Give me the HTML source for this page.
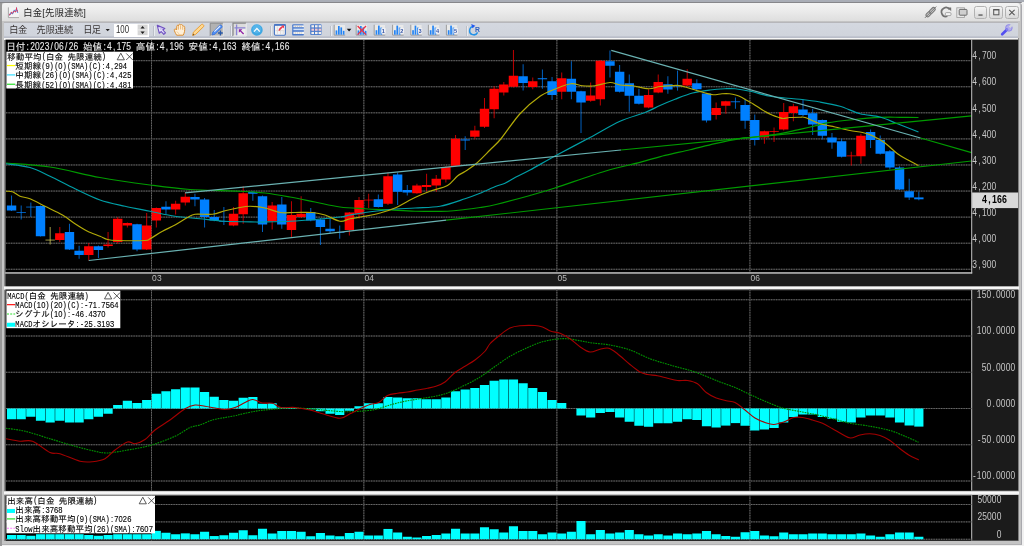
<!DOCTYPE html>
<html lang="ja">
<head>
<meta charset="utf-8">
<title>白金[先限連続]</title>
<style>
html,body{margin:0;padding:0;}
body{width:1024px;height:546px;overflow:hidden;background:#f1f1f1;position:relative;font-family:"Liberation Sans","Noto Sans CJK JP","IPAGothic",sans-serif;}
.abs{position:absolute;}
#topband{left:0;top:0;width:1024px;height:2.4px;background:#a9adb6;}
#topline{left:0;top:2.2px;width:1022px;height:1.2px;background:#86868a;border-radius:0 3px 0 0;}
#leftstrip{left:0;top:3px;width:1.5px;height:543px;background:#989898;}
#frame{left:1.5px;top:3.3px;width:1020.5px;height:541.4px;background:#c4c4c4;border-radius:0 3px 0 0;box-sizing:border-box;border-right:1.5px solid #a9a9ae;border-bottom:1.3px solid #b2b2b4;}
#frameL{left:4.2px;top:38px;width:1014.6px;height:503.3px;background:#8a8a8a;}
#titlebar{left:2px;top:3.4px;width:1018.4px;height:18px;background:linear-gradient(#f3f3f3 0%,#ebebeb 45%,#dedede 100%);border-radius:3px 3px 0 0;}
#toolbar{left:4.3px;top:21.6px;width:1014.2px;height:16.8px;background:linear-gradient(#d4d8e0 0%,#d0d4dc 84%,#bcc0cb 92%,#b8bcc8 100%);border-top:0.7px solid #b6b6ba;box-sizing:border-box;}
#tbwhite{left:4.3px;top:38.3px;width:1014.2px;height:1.3px;background:#f6f6f6;}
#title{left:23.2px;top:6.6px;font-size:9.3px;line-height:12px;color:#262626;white-space:nowrap;letter-spacing:0.25px;}
.tbtxt{top:24.0px;font-size:9.2px;line-height:12px;color:#3a3636;white-space:nowrap;}
#numbox{left:113.7px;top:23.9px;width:35.4px;height:12.9px;background:#fff;}
#numtxt{left:115.9px;top:22.6px;font-size:10.6px;line-height:12px;color:#303030;transform:scaleX(0.74);transform-origin:0 0;letter-spacing:0;}
#spin{left:138px;top:23.4px;width:10px;height:13.6px;background:#e9e9e9;}
.sep{top:25.6px;width:0.7px;height:10.6px;background:#bcc0c9;box-shadow:0.8px 0 0 #eef0f4;}
.sel{background:#a9a9a9;top:23.2px;height:12.4px;}
.wbtn{top:5.6px;height:13.6px;border:0.8px solid #b2b2b2;border-radius:2.5px;box-sizing:border-box;background:linear-gradient(#f4f4f4,#d8d8d8);}
.split{left:4.4px;width:1014.2px;background:linear-gradient(#bdbdbd 0%,#f8f8f8 35%,#f4f4f4 65%,#bdbdbd 100%);}
</style>
</head>
<body>
<div class="abs" id="topband"></div>
<div class="abs" id="topline"></div>
<div class="abs" id="leftstrip"></div>
<div class="abs" id="frame"></div>
<div class="abs" id="frameL"></div>
<div class="abs" id="titlebar"></div>
<div class="abs" id="toolbar"></div>
<div class="abs" id="tbwhite"></div>
<div class="abs" id="title">白金[先限連続]</div>
<div class="abs tbtxt" style="left:9.2px;letter-spacing:-0.3px">白金</div>
<div class="abs tbtxt" style="left:36.4px;letter-spacing:0.05px">先限連続</div>
<div class="abs tbtxt" style="left:83.2px;letter-spacing:-0.5px">日足</div>
<div class="abs" id="numbox"></div>
<div class="abs" id="numtxt">100</div>
<div class="abs sep" style="left:153px"></div>
<div class="abs sep" style="left:229.6px"></div>
<div class="abs sep" style="left:270.3px"></div>
<div class="abs sep" style="left:330px"></div>
<div class="abs sep" style="left:465.8px"></div>
<div class="abs wbtn" style="left:973.8px;width:13.6px"></div>
<div class="abs wbtn" style="left:989.2px;width:14.2px"></div>
<div class="abs wbtn" style="left:1005px;width:13.8px"></div>
<div class="abs split" style="top:286px;height:3.6px"></div>
<div class="abs split" style="top:490.6px;height:4.4px"></div>
<svg id="icons" width="1024" height="40" viewBox="0 0 1024 40" style="position:absolute;left:0;top:0" font-family='"Liberation Sans","IPAGothic",sans-serif'>
<g id="ico-title">
<rect x="8.2" y="7.6" width="10.6" height="10" fill="#f4f4f4"/>
<path d="M8.4,7.4 V17.6 H19" fill="none" stroke="#a0a0a0" stroke-width="0.9"/>
<polyline points="9.4,15.2 11.2,12.6 12.6,13.6 14.2,10.4 15.6,11.6 16.6,8.6 17.8,12.8" fill="none" stroke="#5090e0" stroke-width="1.1"/>
<polyline points="9.4,15.2 11.2,12.6 12.6,13.6 14.2,10.4 15.6,11.6 16.6,8.6 17.8,12.8" fill="none" stroke="#f03050" stroke-width="1.1" stroke-dasharray="1.6 1.4"/>
</g>
<path d="M105.6,28.9 h4.2 l-2.1,2.4 z" fill="#222"/>
<rect x="137.6" y="24.6" width="10" height="10.6" fill="#d6d6d6"/>
<path d="M137.6,29.9 H147.6" stroke="#f4f4f4" stroke-width="0.7"/>
<path d="M140.5,28.6 l2.1,-2.5 l2.1,2.5 z M140.5,31.4 l2.1,2.5 l2.1,-2.5 z" fill="#1c1c1c"/>
<path d="M157.3,25.3 L159.3,33.3 L161.1,31.5 L163.8,34.4 L165.5,32.9 L162.8,30 L164.9,28.4 Z" fill="#c9c0f2" stroke="#6e4fc0" stroke-width="1.1" stroke-linejoin="round"/>
<path d="M158.9,27.6 L160,31.2 L161.4,29.9 L163.6,32.4" fill="none" stroke="#f4f0ff" stroke-width="0.9"/>
<path d="M176.6,35.2 C175.4,33 174.2,31 174.3,29.6 C174.6,28.6 175.8,28.8 176.6,30 L176.8,26.2 C176.9,25 178.2,25 178.4,26.2 L178.8,24.8 C179.2,23.8 180.4,24 180.5,25 L181,24.9 C181.6,24.2 182.6,24.6 182.6,25.6 L183.2,26.2 C184,25.8 184.8,26.4 184.7,27.4 C184.9,30 184.6,32.6 183.2,35.2 Z" fill="#fff0d8" stroke="#dc9034" stroke-width="1.0" stroke-linejoin="round"/>
<path d="M178.5,26.4 V29.6 M180.6,25.6 V29.4 M182.7,26.2 V29.8" stroke="#e2a050" stroke-width="0.7" fill="none"/>
<path d="M176.8,31.4 C177.6,32.6 178.6,33.6 179.6,34.4" stroke="#ecc080" stroke-width="0.7" fill="none"/>
<path d="M192.6,35.4 L193.4,32.2 L201.6,24.4 C202.6,23.8 204.2,25.2 203.8,26.4 L195.6,34.4 Z" fill="#ffd890" stroke="#eaa038" stroke-width="1.0" stroke-linejoin="round"/>
<path d="M192.6,35.4 L193.1,33.6 L194.4,34.9 Z" fill="#6a4a20"/>
<rect x="210.2" y="23.2" width="12.9" height="12.7" fill="#b2b2b2"/>
<path d="M210.2,36 V23.2 H223.1" fill="none" stroke="#868686" stroke-width="0.9"/>
<path d="M210.4,36 H223.2 V23.4" fill="none" stroke="#ececec" stroke-width="0.8"/>
<path d="M212,35 L212.8,32.2 L219.6,25.2 C220.8,24.4 222.6,25.8 222,27.2 L215,34.2 Z" fill="#5090f4" stroke="#3a70d8" stroke-width="0.8" stroke-linejoin="round"/>
<path d="M214.4,31.6 L220.2,26" stroke="#e8f0ff" stroke-width="1.1" fill="none"/>
<path d="M220.4,30.6 v4.8 M218,33 h4.8" stroke="#2858a8" stroke-width="1.3" fill="none"/>
<rect x="233" y="23.2" width="13.1" height="12.7" fill="#dcdcdc"/>
<path d="M233,36 V23.2 H246.1" fill="none" stroke="#868686" stroke-width="1.2"/>
<path d="M233.2,36 H246.2 V23.4" fill="none" stroke="#f2f2f2" stroke-width="0.8"/>
<rect x="237.6" y="28.8" width="8" height="6.4" fill="#efefef"/>
<path d="M236.6,24.4 V35.2 M234.4,27.8 H245.4" stroke="#8a84d4" stroke-width="1.3" fill="none"/>
<path d="M243.6,34 L240,30.4" stroke="#9020a4" stroke-width="1.3" fill="none"/>
<path d="M238.8,29.2 h3.6 l-3.6,3.6 z" fill="#9020a4"/>
<circle cx="256.9" cy="30" r="5.8" fill="#3fa7e2"/>
<circle cx="256.9" cy="29" r="4.4" fill="#62bdf0" opacity="0.6"/>
<polyline points="254,31.6 256.9,28.4 259.8,31.6" fill="none" stroke="#fff" stroke-width="1.3"/>
<rect x="274.4" y="24.6" width="11" height="10.6" rx="1.2" fill="#f4f4f6" stroke="#4674c4" stroke-width="1.1"/>
<rect x="274.2" y="24.2" width="11.4" height="1.6" fill="#4674c4"/>
<path d="M277.4,26.4 V34.4 M280.6,30.8 V34.4 M283.2,30.8 V34.4 M275.6,30.6 H284.6" stroke="#d8d4d0" stroke-width="0.7" fill="none"/>
<path d="M279.2,30.6 C279.6,28 281.2,28.4 282.6,26.4" stroke="#f0384c" stroke-width="1.6" fill="none"/>
<path d="M281.4,25.6 h2.6 v2.8 z" fill="#f0384c"/>
<rect x="292.2" y="24.2" width="11.6" height="11.4" rx="1.2" fill="#4a7acc"/>
<rect x="293.4" y="25.4" width="10.6" height="1.8" fill="#f4f4f4"/>
<rect x="293.4" y="28.6" width="10.6" height="1.6" fill="#cfe2fa"/>
<rect x="293.4" y="31.8" width="10.6" height="2.2" fill="#f4f4f4"/>
<path d="M294.6,26.3 h7.4 M294.6,33 h7.4" stroke="#b8b0a0" stroke-width="0.7" stroke-dasharray="1.4 0.8"/>
<rect x="310.2" y="24.2" width="11.4" height="10.8" rx="1.2" fill="#4a7acc"/>
<rect x="311.4" y="25.2" width="2.6" height="2.2" fill="#f4f0ec"/>
<rect x="315.0" y="25.2" width="2.6" height="2.2" fill="#f4f0ec"/>
<rect x="318.6" y="25.2" width="2.6" height="2.2" fill="#f4f0ec"/>
<rect x="311.4" y="28.6" width="2.6" height="2.2" fill="#f0c8d0"/>
<rect x="315.0" y="28.6" width="2.6" height="2.2" fill="#f0c8d0"/>
<rect x="318.6" y="28.6" width="2.6" height="2.2" fill="#f0c8d0"/>
<rect x="311.4" y="31.9" width="2.6" height="2.2" fill="#f4f0ec"/>
<rect x="315.0" y="31.9" width="2.6" height="2.2" fill="#f4f0ec"/>
<rect x="318.6" y="31.9" width="2.6" height="2.2" fill="#f4f0ec"/>
<rect x="334.2" y="25" width="10.8" height="10" fill="#e9e9e9"/>
<path d="M334.2,24.8 V35.1 H345.2" fill="none" stroke="#8c8c8c" stroke-width="0.8"/>
<rect x="335.6" y="30.4" width="1.7" height="4.3" fill="#2484f4"/>
<rect x="338.0" y="26" width="1.7" height="8.7" fill="#2484f4"/>
<rect x="340.4" y="27.4" width="1.7" height="7.3" fill="#2484f4"/>
<rect x="342.8" y="30.8" width="1.7" height="3.9" fill="#2484f4"/>
<path d="M346.8,28.8 h4.6 l-2.3,2.6 z" fill="#111"/>
<rect x="356.2" y="25" width="10.8" height="10" fill="#e9e9e9"/>
<path d="M356.2,24.8 V35.1 H367.2" fill="none" stroke="#8c8c8c" stroke-width="0.8"/>
<rect x="357.6" y="30.4" width="1.7" height="4.3" fill="#2484f4"/>
<rect x="360.0" y="26" width="1.7" height="8.7" fill="#2484f4"/>
<rect x="362.4" y="27.4" width="1.7" height="7.3" fill="#2484f4"/>
<rect x="364.8" y="30.8" width="1.7" height="3.9" fill="#2484f4"/>
<path d="M357.59999999999997,26 L366.0,34.6 M366.0,26 L357.59999999999997,34.6" stroke="#f03044" stroke-width="1.3" fill="none"/>
<rect x="374.2" y="25" width="10.8" height="10" fill="#e9e9e9"/>
<path d="M374.2,24.8 V35.1 H385.2" fill="none" stroke="#8c8c8c" stroke-width="0.8"/>
<rect x="375.6" y="30.2" width="1.7" height="4.5" fill="#2484f4"/>
<rect x="378.0" y="25.6" width="1.7" height="9.1" fill="#2484f4"/>
<rect x="380.4" y="27.6" width="1.7" height="7.1" fill="#2484f4"/>
<rect x="381.2" y="28.2" width="4.4" height="5.4" fill="#f2f2f6"/>
<text x="383.4" y="33.2" font-size="5.6" font-weight="bold" text-anchor="middle" fill="#3454a4">1</text>
<rect x="392.6" y="25" width="10.8" height="10" fill="#e9e9e9"/>
<path d="M392.6,24.8 V35.1 H403.6" fill="none" stroke="#8c8c8c" stroke-width="0.8"/>
<rect x="394.0" y="30.2" width="1.7" height="4.5" fill="#2484f4"/>
<rect x="396.4" y="25.6" width="1.7" height="9.1" fill="#2484f4"/>
<rect x="398.8" y="27.6" width="1.7" height="7.1" fill="#2484f4"/>
<rect x="399.6" y="28.2" width="4.4" height="5.4" fill="#f2f2f6"/>
<text x="401.8" y="33.2" font-size="5.6" font-weight="bold" text-anchor="middle" fill="#3454a4">2</text>
<rect x="410.8" y="25" width="10.8" height="10" fill="#e9e9e9"/>
<path d="M410.8,24.8 V35.1 H421.8" fill="none" stroke="#8c8c8c" stroke-width="0.8"/>
<rect x="412.2" y="30.2" width="1.7" height="4.5" fill="#2484f4"/>
<rect x="414.6" y="25.6" width="1.7" height="9.1" fill="#2484f4"/>
<rect x="417.0" y="27.6" width="1.7" height="7.1" fill="#2484f4"/>
<rect x="417.8" y="28.2" width="4.4" height="5.4" fill="#f2f2f6"/>
<text x="420.0" y="33.2" font-size="5.6" font-weight="bold" text-anchor="middle" fill="#3454a4">3</text>
<rect x="428.4" y="25" width="10.8" height="10" fill="#e9e9e9"/>
<path d="M428.4,24.8 V35.1 H439.4" fill="none" stroke="#8c8c8c" stroke-width="0.8"/>
<rect x="429.8" y="30.2" width="1.7" height="4.5" fill="#2484f4"/>
<rect x="432.2" y="25.6" width="1.7" height="9.1" fill="#2484f4"/>
<rect x="434.6" y="27.6" width="1.7" height="7.1" fill="#2484f4"/>
<rect x="435.4" y="28.2" width="4.4" height="5.4" fill="#f2f2f6"/>
<text x="437.59999999999997" y="33.2" font-size="5.6" font-weight="bold" text-anchor="middle" fill="#3454a4">4</text>
<rect x="446.4" y="25" width="10.8" height="10" fill="#e9e9e9"/>
<path d="M446.4,24.8 V35.1 H457.4" fill="none" stroke="#8c8c8c" stroke-width="0.8"/>
<rect x="447.8" y="30.2" width="1.7" height="4.5" fill="#2484f4"/>
<rect x="450.2" y="25.6" width="1.7" height="9.1" fill="#2484f4"/>
<rect x="452.6" y="27.6" width="1.7" height="7.1" fill="#2484f4"/>
<rect x="453.4" y="28.2" width="4.4" height="5.4" fill="#f2f2f6"/>
<text x="455.59999999999997" y="33.2" font-size="5.6" font-weight="bold" text-anchor="middle" fill="#3454a4">5</text>
<path d="M473.8,26.4 A4.2,4.2 0 1 0 477.6,32.4" fill="none" stroke="#2492e8" stroke-width="1.5"/>
<path d="M471.2,24 L475.4,25.7 L472.4,28.2 Z" fill="#2458f0"/>
<text x="475.1" y="32.3" font-size="6.8" font-weight="bold" fill="#3060c0">R</text>
<circle cx="1008.9" cy="27.9" r="3.3" fill="#b0acee" stroke="#8e88e2" stroke-width="0.9"/>
<path d="M1009.6,27.2 L1013.2,23.6" stroke="#d1d5dd" stroke-width="2.3" fill="none"/>
<path d="M1002.2,34.2 L1006.8,29.8" stroke="#5450f0" stroke-width="2.7" stroke-linecap="round" fill="none"/>
<path d="M1006.2,30.4 L1007.6,29.0" stroke="#8a86ea" stroke-width="2.4" fill="none"/>
<g transform="rotate(-45 930.6 12.2)"><rect x="924.8" y="10.5" width="6.6" height="3.4" rx="1.6" fill="#cfcfcf" stroke="#7a7a7a" stroke-width="1.15"/><rect x="929.8" y="10.5" width="6.6" height="3.4" rx="1.6" fill="#cfcfcf" stroke="#7a7a7a" stroke-width="1.15"/><path d="M922.6,12.2 H938.6" stroke="#6e6e6e" stroke-width="0.9"/></g>
<path d="M949.6,9.6 A4.4,4.4 0 1 0 947.4,16.2" fill="none" stroke="#727272" stroke-width="1.7"/>
<path d="M947.6,7.4 h3.6 v3.8 z" fill="#727272"/>
<rect x="945.4" y="12.6" width="5.6" height="3" rx="1" fill="#f4f4f4" stroke="#8a8a8a" stroke-width="0.7"/>
<rect x="956.8" y="7.8" width="7.8" height="9.6" fill="#e8e8e8" stroke="#9c9c9c" stroke-width="0.8"/>
<rect x="959.2" y="9.4" width="7.8" height="5.8" rx="0.8" fill="#cfcfcf" stroke="#6a6a6a" stroke-width="1.0"/>
<rect x="978.4" y="14.4" width="4.2" height="1.3" fill="#555"/>
<rect x="993.7" y="9.6" width="5.2" height="5.2" fill="none" stroke="#555" stroke-width="1.0"/>
<rect x="993.4" y="9.2" width="5.8" height="1.2" fill="#555"/>
<path d="M1009.2,9.8 L1014.6,15.2 M1014.6,9.8 L1009.2,15.2" stroke="#555" stroke-width="1.05" fill="none"/>
</svg>
<svg id="chart" width="1024" height="546" viewBox="0 0 1024 546" font-family='"Liberation Mono","IPAGothic",monospace' style="position:absolute;left:0;top:0">
<rect x="5.5" y="39.6" width="1012.6" height="246.6" fill="#1b1b1b"/>
<rect x="6.0" y="40.0" width="965.5" height="232.0" fill="#000"/>
<rect x="5.5" y="289.6" width="1012.6" height="201.0" fill="#1b1b1b"/>
<rect x="6.0" y="289.6" width="965.5" height="201.0" fill="#000"/>
<rect x="5.5" y="495.0" width="1012.6" height="45.5" fill="#1b1b1b"/>
<rect x="6.0" y="495.0" width="965.5" height="45.5" fill="#000"/>
<g id="main-panel">
<line x1="6.0" y1="60.70" x2="971.5" y2="60.70" stroke="#383838" stroke-width="0.9"/><line x1="6.0" y1="60.70" x2="971.5" y2="60.70" stroke="#6e6e6e" stroke-width="0.9" stroke-dasharray="1.25 1.25"/>
<line x1="6.0" y1="86.77" x2="971.5" y2="86.77" stroke="#383838" stroke-width="0.9"/><line x1="6.0" y1="86.77" x2="971.5" y2="86.77" stroke="#6e6e6e" stroke-width="0.9" stroke-dasharray="1.25 1.25"/>
<line x1="6.0" y1="112.84" x2="971.5" y2="112.84" stroke="#383838" stroke-width="0.9"/><line x1="6.0" y1="112.84" x2="971.5" y2="112.84" stroke="#6e6e6e" stroke-width="0.9" stroke-dasharray="1.25 1.25"/>
<line x1="6.0" y1="138.91" x2="971.5" y2="138.91" stroke="#383838" stroke-width="0.9"/><line x1="6.0" y1="138.91" x2="971.5" y2="138.91" stroke="#6e6e6e" stroke-width="0.9" stroke-dasharray="1.25 1.25"/>
<line x1="6.0" y1="164.98" x2="971.5" y2="164.98" stroke="#383838" stroke-width="0.9"/><line x1="6.0" y1="164.98" x2="971.5" y2="164.98" stroke="#6e6e6e" stroke-width="0.9" stroke-dasharray="1.25 1.25"/>
<line x1="6.0" y1="191.05" x2="971.5" y2="191.05" stroke="#383838" stroke-width="0.9"/><line x1="6.0" y1="191.05" x2="971.5" y2="191.05" stroke="#6e6e6e" stroke-width="0.9" stroke-dasharray="1.25 1.25"/>
<line x1="6.0" y1="217.12" x2="971.5" y2="217.12" stroke="#383838" stroke-width="0.9"/><line x1="6.0" y1="217.12" x2="971.5" y2="217.12" stroke="#6e6e6e" stroke-width="0.9" stroke-dasharray="1.25 1.25"/>
<line x1="6.0" y1="243.19" x2="971.5" y2="243.19" stroke="#383838" stroke-width="0.9"/><line x1="6.0" y1="243.19" x2="971.5" y2="243.19" stroke="#6e6e6e" stroke-width="0.9" stroke-dasharray="1.25 1.25"/>
<line x1="6.0" y1="269.26" x2="971.5" y2="269.26" stroke="#383838" stroke-width="0.9"/><line x1="6.0" y1="269.26" x2="971.5" y2="269.26" stroke="#6e6e6e" stroke-width="0.9" stroke-dasharray="1.25 1.25"/>
<line x1="151.50" y1="40.0" x2="151.50" y2="272.0" stroke="#383838" stroke-width="0.9"/><line x1="151.50" y1="40.0" x2="151.50" y2="272.0" stroke="#6e6e6e" stroke-width="0.9" stroke-dasharray="1.25 1.25"/>
<line x1="363.85" y1="40.0" x2="363.85" y2="272.0" stroke="#383838" stroke-width="0.9"/><line x1="363.85" y1="40.0" x2="363.85" y2="272.0" stroke="#6e6e6e" stroke-width="0.9" stroke-dasharray="1.25 1.25"/>
<line x1="556.89" y1="40.0" x2="556.89" y2="272.0" stroke="#383838" stroke-width="0.9"/><line x1="556.89" y1="40.0" x2="556.89" y2="272.0" stroke="#6e6e6e" stroke-width="0.9" stroke-dasharray="1.25 1.25"/>
<line x1="749.93" y1="40.0" x2="749.93" y2="272.0" stroke="#383838" stroke-width="0.9"/><line x1="749.93" y1="40.0" x2="749.93" y2="272.0" stroke="#6e6e6e" stroke-width="0.9" stroke-dasharray="1.25 1.25"/>
<g id="candles">
<line x1="11.55" y1="195.50" x2="11.55" y2="211.00" stroke="#0080ff" stroke-width="1.0" stroke-opacity="0.75"/>
<rect x="6.85" y="205.50" width="9.4" height="5.00" fill="#0080ff"/>
<line x1="21.20" y1="205.50" x2="21.20" y2="219.50" stroke="#0080ff" stroke-width="1.0" stroke-opacity="0.75"/>
<rect x="16.50" y="212.20" width="9.4" height="0.70" fill="#0080ff"/>
<line x1="30.85" y1="202.50" x2="30.85" y2="217.00" stroke="#0080ff" stroke-width="1.0" stroke-opacity="0.75"/>
<rect x="26.15" y="206.70" width="9.4" height="0.70" fill="#0080ff"/>
<line x1="40.51" y1="205.50" x2="40.51" y2="236.50" stroke="#0080ff" stroke-width="1.0" stroke-opacity="0.75"/>
<rect x="35.81" y="206.00" width="9.4" height="30.25" fill="#0080ff"/>
<line x1="50.16" y1="227.00" x2="50.16" y2="244.50" stroke="#d8d060" stroke-width="1.0" stroke-opacity="0.75"/>
<rect x="45.46" y="239.70" width="9.4" height="0.70" fill="#d8d060"/>
<line x1="59.81" y1="227.00" x2="59.81" y2="242.00" stroke="#ff0000" stroke-width="1.0" stroke-opacity="0.75"/>
<rect x="55.11" y="233.25" width="9.4" height="6.75" fill="#ff0000"/>
<line x1="69.46" y1="223.75" x2="69.46" y2="250.00" stroke="#0080ff" stroke-width="1.0" stroke-opacity="0.75"/>
<rect x="64.76" y="232.00" width="9.4" height="17.50" fill="#0080ff"/>
<line x1="79.11" y1="245.75" x2="79.11" y2="258.75" stroke="#0080ff" stroke-width="1.0" stroke-opacity="0.75"/>
<rect x="74.41" y="250.75" width="9.4" height="4.25" fill="#0080ff"/>
<line x1="88.77" y1="243.00" x2="88.77" y2="260.50" stroke="#ff0000" stroke-width="1.0" stroke-opacity="0.75"/>
<rect x="84.07" y="246.25" width="9.4" height="8.75" fill="#ff0000"/>
<line x1="98.42" y1="245.50" x2="98.42" y2="258.00" stroke="#0080ff" stroke-width="1.0" stroke-opacity="0.75"/>
<rect x="93.72" y="246.25" width="9.4" height="3.75" fill="#0080ff"/>
<line x1="108.07" y1="232.00" x2="108.07" y2="247.50" stroke="#ff0000" stroke-width="1.0" stroke-opacity="0.75"/>
<rect x="103.37" y="244.50" width="9.4" height="1.50" fill="#ff0000"/>
<line x1="117.72" y1="217.00" x2="117.72" y2="243.75" stroke="#ff0000" stroke-width="1.0" stroke-opacity="0.75"/>
<rect x="113.02" y="218.75" width="9.4" height="23.25" fill="#ff0000"/>
<line x1="127.37" y1="222.50" x2="127.37" y2="227.50" stroke="#ff0000" stroke-width="1.0" stroke-opacity="0.75"/>
<rect x="122.67" y="223.00" width="9.4" height="2.50" fill="#ff0000"/>
<line x1="137.03" y1="223.75" x2="137.03" y2="251.25" stroke="#0080ff" stroke-width="1.0" stroke-opacity="0.75"/>
<rect x="132.33" y="224.25" width="9.4" height="25.25" fill="#0080ff"/>
<line x1="146.68" y1="213.00" x2="146.68" y2="250.00" stroke="#ff0000" stroke-width="1.0" stroke-opacity="0.75"/>
<rect x="141.98" y="225.50" width="9.4" height="24.00" fill="#ff0000"/>
<line x1="156.33" y1="207.50" x2="156.33" y2="227.50" stroke="#ff0000" stroke-width="1.0" stroke-opacity="0.75"/>
<rect x="151.63" y="208.00" width="9.4" height="12.50" fill="#ff0000"/>
<line x1="165.98" y1="201.25" x2="165.98" y2="214.50" stroke="#0080ff" stroke-width="1.0" stroke-opacity="0.75"/>
<rect x="161.28" y="206.75" width="9.4" height="2.75" fill="#0080ff"/>
<line x1="175.63" y1="200.75" x2="175.63" y2="214.50" stroke="#ff0000" stroke-width="1.0" stroke-opacity="0.75"/>
<rect x="170.93" y="203.75" width="9.4" height="5.75" fill="#ff0000"/>
<line x1="185.29" y1="192.50" x2="185.29" y2="205.50" stroke="#ff0000" stroke-width="1.0" stroke-opacity="0.75"/>
<rect x="180.59" y="196.75" width="9.4" height="5.75" fill="#ff0000"/>
<line x1="194.94" y1="193.75" x2="194.94" y2="206.25" stroke="#0080ff" stroke-width="1.0" stroke-opacity="0.75"/>
<rect x="190.24" y="197.00" width="9.4" height="2.50" fill="#0080ff"/>
<line x1="204.59" y1="198.00" x2="204.59" y2="227.50" stroke="#0080ff" stroke-width="1.0" stroke-opacity="0.75"/>
<rect x="199.89" y="199.50" width="9.4" height="17.50" fill="#0080ff"/>
<line x1="214.24" y1="210.00" x2="214.24" y2="221.25" stroke="#0080ff" stroke-width="1.0" stroke-opacity="0.75"/>
<rect x="209.54" y="217.00" width="9.4" height="3.50" fill="#0080ff"/>
<line x1="223.89" y1="207.00" x2="223.89" y2="225.00" stroke="#0080ff" stroke-width="1.0" stroke-opacity="0.75"/>
<rect x="219.19" y="221.00" width="9.4" height="0.70" fill="#0080ff"/>
<line x1="233.55" y1="207.00" x2="233.55" y2="226.25" stroke="#ff0000" stroke-width="1.0" stroke-opacity="0.75"/>
<rect x="228.85" y="213.75" width="9.4" height="11.75" fill="#ff0000"/>
<line x1="243.20" y1="186.25" x2="243.20" y2="223.75" stroke="#ff0000" stroke-width="1.0" stroke-opacity="0.75"/>
<rect x="238.50" y="193.25" width="9.4" height="21.00" fill="#ff0000"/>
<line x1="252.85" y1="191.00" x2="252.85" y2="200.75" stroke="#0080ff" stroke-width="1.0" stroke-opacity="0.75"/>
<rect x="248.15" y="192.00" width="9.4" height="1.75" fill="#0080ff"/>
<line x1="262.50" y1="195.50" x2="262.50" y2="232.00" stroke="#0080ff" stroke-width="1.0" stroke-opacity="0.75"/>
<rect x="257.80" y="196.25" width="9.4" height="28.25" fill="#0080ff"/>
<line x1="272.15" y1="202.00" x2="272.15" y2="229.50" stroke="#ff0000" stroke-width="1.0" stroke-opacity="0.75"/>
<rect x="267.45" y="205.50" width="9.4" height="15.75" fill="#ff0000"/>
<line x1="281.81" y1="197.00" x2="281.81" y2="228.75" stroke="#0080ff" stroke-width="1.0" stroke-opacity="0.75"/>
<rect x="277.11" y="204.50" width="9.4" height="20.00" fill="#0080ff"/>
<line x1="291.46" y1="201.25" x2="291.46" y2="237.00" stroke="#ff0000" stroke-width="1.0" stroke-opacity="0.75"/>
<rect x="286.76" y="215.00" width="9.4" height="15.00" fill="#ff0000"/>
<line x1="301.11" y1="196.25" x2="301.11" y2="218.00" stroke="#ff0000" stroke-width="1.0" stroke-opacity="0.75"/>
<rect x="296.41" y="213.75" width="9.4" height="3.25" fill="#ff0000"/>
<line x1="310.76" y1="208.00" x2="310.76" y2="221.25" stroke="#0080ff" stroke-width="1.0" stroke-opacity="0.75"/>
<rect x="306.06" y="212.00" width="9.4" height="8.50" fill="#0080ff"/>
<line x1="320.41" y1="218.00" x2="320.41" y2="245.00" stroke="#0080ff" stroke-width="1.0" stroke-opacity="0.75"/>
<rect x="315.71" y="219.50" width="9.4" height="7.50" fill="#0080ff"/>
<line x1="330.07" y1="218.00" x2="330.07" y2="233.00" stroke="#0080ff" stroke-width="1.0" stroke-opacity="0.75"/>
<rect x="325.37" y="228.75" width="9.4" height="2.50" fill="#0080ff"/>
<line x1="339.72" y1="225.50" x2="339.72" y2="238.75" stroke="#0080ff" stroke-width="1.0" stroke-opacity="0.75"/>
<rect x="335.02" y="232.00" width="9.4" height="0.70" fill="#0080ff"/>
<line x1="349.37" y1="212.00" x2="349.37" y2="235.50" stroke="#ff0000" stroke-width="1.0" stroke-opacity="0.75"/>
<rect x="344.67" y="212.50" width="9.4" height="17.50" fill="#ff0000"/>
<line x1="359.02" y1="197.00" x2="359.02" y2="218.75" stroke="#ff0000" stroke-width="1.0" stroke-opacity="0.75"/>
<rect x="354.32" y="200.00" width="9.4" height="14.50" fill="#ff0000"/>
<line x1="368.67" y1="193.75" x2="368.67" y2="208.00" stroke="#ff0000" stroke-width="1.0" stroke-opacity="0.75"/>
<rect x="363.97" y="199.70" width="9.4" height="0.70" fill="#ff0000"/>
<line x1="378.33" y1="194.50" x2="378.33" y2="207.50" stroke="#0080ff" stroke-width="1.0" stroke-opacity="0.75"/>
<rect x="373.63" y="199.25" width="9.4" height="7.75" fill="#0080ff"/>
<line x1="387.98" y1="172.50" x2="387.98" y2="205.00" stroke="#ff0000" stroke-width="1.0" stroke-opacity="0.75"/>
<rect x="383.28" y="176.25" width="9.4" height="27.50" fill="#ff0000"/>
<line x1="397.63" y1="172.50" x2="397.63" y2="205.00" stroke="#0080ff" stroke-width="1.0" stroke-opacity="0.75"/>
<rect x="392.93" y="174.50" width="9.4" height="17.25" fill="#0080ff"/>
<line x1="407.28" y1="185.00" x2="407.28" y2="195.50" stroke="#0080ff" stroke-width="1.0" stroke-opacity="0.75"/>
<rect x="402.58" y="190.00" width="9.4" height="2.50" fill="#0080ff"/>
<line x1="416.93" y1="183.75" x2="416.93" y2="193.75" stroke="#ff0000" stroke-width="1.0" stroke-opacity="0.75"/>
<rect x="412.23" y="185.50" width="9.4" height="7.75" fill="#ff0000"/>
<line x1="426.59" y1="173.75" x2="426.59" y2="191.25" stroke="#ff0000" stroke-width="1.0" stroke-opacity="0.75"/>
<rect x="421.89" y="185.00" width="9.4" height="2.00" fill="#ff0000"/>
<line x1="436.24" y1="175.00" x2="436.24" y2="191.75" stroke="#ff0000" stroke-width="1.0" stroke-opacity="0.75"/>
<rect x="431.54" y="178.75" width="9.4" height="6.75" fill="#ff0000"/>
<line x1="445.89" y1="166.25" x2="445.89" y2="182.50" stroke="#ff0000" stroke-width="1.0" stroke-opacity="0.75"/>
<rect x="441.19" y="167.00" width="9.4" height="12.50" fill="#ff0000"/>
<line x1="455.54" y1="135.00" x2="455.54" y2="166.25" stroke="#ff0000" stroke-width="1.0" stroke-opacity="0.75"/>
<rect x="450.84" y="138.75" width="9.4" height="27.00" fill="#ff0000"/>
<line x1="465.19" y1="136.25" x2="465.19" y2="150.00" stroke="#0080ff" stroke-width="1.0" stroke-opacity="0.75"/>
<rect x="460.49" y="139.50" width="9.4" height="1.00" fill="#0080ff"/>
<line x1="474.85" y1="125.75" x2="474.85" y2="139.25" stroke="#ff0000" stroke-width="1.0" stroke-opacity="0.75"/>
<rect x="470.15" y="130.50" width="9.4" height="6.25" fill="#ff0000"/>
<line x1="484.50" y1="98.00" x2="484.50" y2="128.00" stroke="#ff0000" stroke-width="1.0" stroke-opacity="0.75"/>
<rect x="479.80" y="108.75" width="9.4" height="18.00" fill="#ff0000"/>
<line x1="494.15" y1="86.25" x2="494.15" y2="118.25" stroke="#ff0000" stroke-width="1.0" stroke-opacity="0.75"/>
<rect x="489.45" y="88.75" width="9.4" height="20.50" fill="#ff0000"/>
<line x1="503.80" y1="82.00" x2="503.80" y2="95.50" stroke="#ff0000" stroke-width="1.0" stroke-opacity="0.75"/>
<rect x="499.10" y="84.50" width="9.4" height="8.00" fill="#ff0000"/>
<line x1="513.45" y1="50.00" x2="513.45" y2="87.50" stroke="#ff0000" stroke-width="1.0" stroke-opacity="0.75"/>
<rect x="508.75" y="75.75" width="9.4" height="11.00" fill="#ff0000"/>
<line x1="523.11" y1="64.25" x2="523.11" y2="90.50" stroke="#0080ff" stroke-width="1.0" stroke-opacity="0.75"/>
<rect x="518.41" y="76.25" width="9.4" height="6.75" fill="#0080ff"/>
<line x1="532.76" y1="77.50" x2="532.76" y2="89.25" stroke="#ff0000" stroke-width="1.0" stroke-opacity="0.75"/>
<rect x="528.06" y="81.25" width="9.4" height="5.75" fill="#ff0000"/>
<line x1="542.41" y1="69.50" x2="542.41" y2="88.75" stroke="#0080ff" stroke-width="1.0" stroke-opacity="0.75"/>
<rect x="537.71" y="78.25" width="9.4" height="1.00" fill="#0080ff"/>
<line x1="552.06" y1="77.00" x2="552.06" y2="100.00" stroke="#0080ff" stroke-width="1.0" stroke-opacity="0.75"/>
<rect x="547.36" y="81.25" width="9.4" height="13.75" fill="#0080ff"/>
<line x1="561.71" y1="72.50" x2="561.71" y2="99.25" stroke="#ff0000" stroke-width="1.0" stroke-opacity="0.75"/>
<rect x="557.01" y="78.25" width="9.4" height="13.50" fill="#ff0000"/>
<line x1="571.37" y1="61.25" x2="571.37" y2="99.25" stroke="#0080ff" stroke-width="1.0" stroke-opacity="0.75"/>
<rect x="566.67" y="78.75" width="9.4" height="13.00" fill="#0080ff"/>
<line x1="581.02" y1="90.75" x2="581.02" y2="133.00" stroke="#0080ff" stroke-width="1.0" stroke-opacity="0.75"/>
<rect x="576.32" y="91.25" width="9.4" height="11.25" fill="#0080ff"/>
<line x1="590.67" y1="82.50" x2="590.67" y2="101.75" stroke="#ff0000" stroke-width="1.0" stroke-opacity="0.75"/>
<rect x="585.97" y="95.50" width="9.4" height="5.25" fill="#ff0000"/>
<line x1="600.32" y1="60.00" x2="600.32" y2="105.50" stroke="#ff0000" stroke-width="1.0" stroke-opacity="0.75"/>
<rect x="595.62" y="60.75" width="9.4" height="38.50" fill="#ff0000"/>
<line x1="609.97" y1="50.50" x2="609.97" y2="77.50" stroke="#0080ff" stroke-width="1.0" stroke-opacity="0.75"/>
<rect x="605.27" y="61.25" width="9.4" height="4.50" fill="#0080ff"/>
<line x1="619.63" y1="65.00" x2="619.63" y2="92.50" stroke="#0080ff" stroke-width="1.0" stroke-opacity="0.75"/>
<rect x="614.93" y="71.75" width="9.4" height="20.00" fill="#0080ff"/>
<line x1="629.28" y1="74.50" x2="629.28" y2="111.75" stroke="#0080ff" stroke-width="1.0" stroke-opacity="0.75"/>
<rect x="624.58" y="83.25" width="9.4" height="12.50" fill="#0080ff"/>
<line x1="638.93" y1="88.75" x2="638.93" y2="104.50" stroke="#0080ff" stroke-width="1.0" stroke-opacity="0.75"/>
<rect x="634.23" y="95.75" width="9.4" height="8.00" fill="#0080ff"/>
<line x1="648.58" y1="89.25" x2="648.58" y2="108.25" stroke="#ff0000" stroke-width="1.0" stroke-opacity="0.75"/>
<rect x="643.88" y="95.00" width="9.4" height="12.50" fill="#ff0000"/>
<line x1="658.23" y1="74.50" x2="658.23" y2="93.25" stroke="#ff0000" stroke-width="1.0" stroke-opacity="0.75"/>
<rect x="653.53" y="82.00" width="9.4" height="10.50" fill="#ff0000"/>
<line x1="667.89" y1="76.25" x2="667.89" y2="93.75" stroke="#0080ff" stroke-width="1.0" stroke-opacity="0.75"/>
<rect x="663.19" y="84.25" width="9.4" height="5.25" fill="#0080ff"/>
<line x1="677.54" y1="70.60" x2="677.54" y2="90.60" stroke="#0080ff" stroke-width="1.0" stroke-opacity="0.75"/>
<rect x="672.84" y="85.50" width="9.4" height="0.90" fill="#0080ff"/>
<line x1="687.19" y1="69.25" x2="687.19" y2="86.25" stroke="#ff0000" stroke-width="1.0" stroke-opacity="0.75"/>
<rect x="682.49" y="78.75" width="9.4" height="6.75" fill="#ff0000"/>
<line x1="696.84" y1="79.25" x2="696.84" y2="90.00" stroke="#0080ff" stroke-width="1.0" stroke-opacity="0.75"/>
<rect x="692.14" y="83.25" width="9.4" height="6.00" fill="#0080ff"/>
<line x1="706.49" y1="93.25" x2="706.49" y2="122.50" stroke="#0080ff" stroke-width="1.0" stroke-opacity="0.75"/>
<rect x="701.79" y="93.50" width="9.4" height="27.00" fill="#0080ff"/>
<line x1="716.15" y1="102.50" x2="716.15" y2="119.50" stroke="#ff0000" stroke-width="1.0" stroke-opacity="0.75"/>
<rect x="711.45" y="108.00" width="9.4" height="7.00" fill="#ff0000"/>
<line x1="725.80" y1="100.75" x2="725.80" y2="113.75" stroke="#ff0000" stroke-width="1.0" stroke-opacity="0.75"/>
<rect x="721.10" y="101.25" width="9.4" height="4.50" fill="#ff0000"/>
<line x1="735.45" y1="97.50" x2="735.45" y2="108.75" stroke="#0080ff" stroke-width="1.0" stroke-opacity="0.75"/>
<rect x="730.75" y="101.40" width="9.4" height="0.80" fill="#0080ff"/>
<line x1="745.10" y1="98.75" x2="745.10" y2="128.75" stroke="#0080ff" stroke-width="1.0" stroke-opacity="0.75"/>
<rect x="740.40" y="105.00" width="9.4" height="15.75" fill="#0080ff"/>
<line x1="754.75" y1="114.50" x2="754.75" y2="145.50" stroke="#0080ff" stroke-width="1.0" stroke-opacity="0.75"/>
<rect x="750.05" y="120.00" width="9.4" height="20.00" fill="#0080ff"/>
<line x1="764.41" y1="130.50" x2="764.41" y2="143.75" stroke="#ff0000" stroke-width="1.0" stroke-opacity="0.75"/>
<rect x="759.71" y="131.25" width="9.4" height="6.25" fill="#ff0000"/>
<line x1="774.06" y1="127.50" x2="774.06" y2="142.00" stroke="#ff0000" stroke-width="1.0" stroke-opacity="0.75"/>
<rect x="769.36" y="131.00" width="9.4" height="0.75" fill="#ff0000"/>
<line x1="783.71" y1="103.00" x2="783.71" y2="130.50" stroke="#ff0000" stroke-width="1.0" stroke-opacity="0.75"/>
<rect x="779.01" y="112.00" width="9.4" height="17.50" fill="#ff0000"/>
<line x1="793.36" y1="103.75" x2="793.36" y2="121.25" stroke="#ff0000" stroke-width="1.0" stroke-opacity="0.75"/>
<rect x="788.66" y="106.25" width="9.4" height="6.75" fill="#ff0000"/>
<line x1="803.01" y1="99.50" x2="803.01" y2="116.25" stroke="#0080ff" stroke-width="1.0" stroke-opacity="0.75"/>
<rect x="798.31" y="109.50" width="9.4" height="5.50" fill="#0080ff"/>
<line x1="812.67" y1="108.75" x2="812.67" y2="135.00" stroke="#0080ff" stroke-width="1.0" stroke-opacity="0.75"/>
<rect x="807.97" y="113.25" width="9.4" height="11.25" fill="#0080ff"/>
<line x1="822.32" y1="119.50" x2="822.32" y2="139.50" stroke="#0080ff" stroke-width="1.0" stroke-opacity="0.75"/>
<rect x="817.62" y="120.00" width="9.4" height="15.75" fill="#0080ff"/>
<line x1="831.97" y1="133.00" x2="831.97" y2="148.75" stroke="#0080ff" stroke-width="1.0" stroke-opacity="0.75"/>
<rect x="827.27" y="137.50" width="9.4" height="5.00" fill="#0080ff"/>
<line x1="841.62" y1="138.75" x2="841.62" y2="157.50" stroke="#0080ff" stroke-width="1.0" stroke-opacity="0.75"/>
<rect x="836.92" y="141.25" width="9.4" height="15.50" fill="#0080ff"/>
<line x1="851.27" y1="151.75" x2="851.27" y2="165.50" stroke="#ff0000" stroke-width="1.0" stroke-opacity="0.75"/>
<rect x="846.57" y="155.50" width="9.4" height="0.75" fill="#ff0000"/>
<line x1="860.93" y1="133.75" x2="860.93" y2="163.75" stroke="#ff0000" stroke-width="1.0" stroke-opacity="0.75"/>
<rect x="856.23" y="135.75" width="9.4" height="20.50" fill="#ff0000"/>
<line x1="870.58" y1="129.50" x2="870.58" y2="148.00" stroke="#0080ff" stroke-width="1.0" stroke-opacity="0.75"/>
<rect x="865.88" y="132.00" width="9.4" height="8.00" fill="#0080ff"/>
<line x1="880.23" y1="135.50" x2="880.23" y2="154.50" stroke="#0080ff" stroke-width="1.0" stroke-opacity="0.75"/>
<rect x="875.53" y="140.00" width="9.4" height="13.75" fill="#0080ff"/>
<line x1="889.88" y1="150.00" x2="889.88" y2="169.50" stroke="#0080ff" stroke-width="1.0" stroke-opacity="0.75"/>
<rect x="885.18" y="151.25" width="9.4" height="16.25" fill="#0080ff"/>
<line x1="899.53" y1="166.25" x2="899.53" y2="190.00" stroke="#0080ff" stroke-width="1.0" stroke-opacity="0.75"/>
<rect x="894.83" y="167.50" width="9.4" height="22.00" fill="#0080ff"/>
<line x1="909.19" y1="178.75" x2="909.19" y2="200.00" stroke="#0080ff" stroke-width="1.0" stroke-opacity="0.75"/>
<rect x="904.49" y="191.25" width="9.4" height="6.25" fill="#0080ff"/>
<line x1="918.84" y1="191.75" x2="918.84" y2="200.30" stroke="#0080ff" stroke-width="1.0" stroke-opacity="0.75"/>
<rect x="914.14" y="197.40" width="9.4" height="1.90" fill="#0080ff"/>
</g>
<path d="M6.00,163.00 C13.04,163.64 34.96,164.68 50.00,167.00 C65.04,169.32 84.00,174.62 100.00,177.50 C116.00,180.38 135.60,183.08 150.00,185.00 C164.40,186.92 175.60,188.50 190.00,189.50 C204.40,190.50 228.00,190.69 240.00,191.25 C252.00,191.81 257.00,192.08 265.00,193.00 C273.00,193.92 282.00,195.56 290.00,197.00 C298.00,198.44 307.00,200.40 315.00,202.00 C323.00,203.60 332.00,205.92 340.00,207.00 C348.00,208.08 357.00,208.27 365.00,208.75 C373.00,209.23 382.00,209.60 390.00,210.00 C398.00,210.40 405.80,211.05 415.00,211.25 C424.20,211.45 439.50,211.53 447.50,211.25 C455.50,210.97 459.80,210.10 465.00,209.50 C470.20,208.90 475.04,208.30 480.00,207.50 C484.96,206.70 488.00,206.42 496.00,204.50 C504.00,202.58 520.56,198.14 530.00,195.50 C539.44,192.86 543.00,191.88 555.00,188.00 C567.00,184.12 591.40,175.36 605.00,171.25 C618.60,167.14 630.40,164.84 640.00,162.30 C649.60,159.76 657.00,157.41 665.00,155.40 C673.00,153.39 682.00,151.64 690.00,149.75 C698.00,147.86 707.00,145.38 715.00,143.60 C723.00,141.82 734.08,139.59 740.00,138.60 C745.92,137.61 748.00,137.85 752.00,137.40 C756.00,136.95 760.68,136.36 765.00,135.80 C769.32,135.24 775.00,134.57 779.00,133.90 C783.00,133.23 786.64,132.34 790.00,131.60 C793.36,130.86 795.84,130.24 800.00,129.30 C804.16,128.36 811.68,126.72 816.00,125.70 C820.32,124.68 821.24,123.85 827.00,122.90 C832.76,121.95 843.52,120.63 852.00,119.75 C860.48,118.87 872.32,117.79 880.00,117.40 C887.68,117.01 893.84,117.28 900.00,117.30 C906.16,117.32 915.54,117.47 918.50,117.50" fill="none" stroke="#009a00" stroke-width="1.2" stroke-linejoin="round" />
<path d="M6.00,163.75 C9.84,164.35 22.96,165.50 30.00,167.50 C37.04,169.50 42.80,172.85 50.00,176.25 C57.20,179.65 67.00,184.95 75.00,188.75 C83.00,192.55 92.00,197.20 100.00,200.00 C108.00,202.80 117.00,204.45 125.00,206.25 C133.00,208.05 142.00,209.65 150.00,211.25 C158.00,212.85 167.00,215.05 175.00,216.25 C183.00,217.45 192.00,217.95 200.00,218.75 C208.00,219.55 216.04,220.73 225.00,221.25 C233.96,221.77 249.60,221.88 256.00,222.00 C262.40,222.12 259.56,222.12 265.00,222.00 C270.44,221.88 282.00,221.65 290.00,221.25 C298.00,220.85 307.00,220.18 315.00,219.50 C323.00,218.82 334.40,217.72 340.00,217.00 C345.60,216.28 346.00,215.72 350.00,215.00 C354.00,214.28 358.60,213.38 365.00,212.50 C371.40,211.62 382.00,210.22 390.00,209.50 C398.00,208.78 407.00,208.52 415.00,208.00 C423.00,207.48 432.00,207.73 440.00,206.25 C448.00,204.77 458.60,200.83 465.00,198.75 C471.40,196.67 475.04,195.25 480.00,193.25 C484.96,191.25 492.00,187.85 496.00,186.25 C500.00,184.65 501.80,184.73 505.00,183.25 C508.20,181.77 512.00,179.12 516.00,177.00 C520.00,174.88 523.60,173.44 530.00,170.00 C536.40,166.56 546.40,160.70 556.00,155.50 C565.60,150.30 579.76,142.98 590.00,137.50 C600.24,132.02 611.20,125.25 620.00,121.25 C628.80,117.25 638.60,115.02 645.00,112.50 C651.40,109.98 655.20,107.62 660.00,105.50 C664.80,103.38 669.80,101.25 675.00,99.25 C680.20,97.25 686.90,94.48 692.50,93.00 C698.10,91.52 704.80,90.68 710.00,90.00 C715.20,89.32 721.00,88.95 725.00,88.75 C729.00,88.55 731.00,88.35 735.00,88.75 C739.00,89.15 744.40,90.05 750.00,91.25 C755.60,92.45 764.40,95.17 770.00,96.25 C775.60,97.33 780.20,97.52 785.00,98.00 C789.80,98.48 794.40,98.61 800.00,99.25 C805.60,99.89 813.60,100.88 820.00,102.00 C826.40,103.12 833.60,104.37 840.00,106.25 C846.40,108.13 853.60,112.03 860.00,113.75 C866.40,115.47 874.00,115.40 880.00,117.00 C886.00,118.60 891.34,121.35 897.50,123.75 C903.66,126.15 915.14,130.68 918.50,132.00" fill="none" stroke="#009ea6" stroke-width="1.2" stroke-linejoin="round" />
<path d="M6.00,191.25 C7.04,191.33 10.26,190.95 12.50,191.75 C14.74,192.55 17.20,195.13 20.00,196.25 C22.80,197.37 26.00,197.15 30.00,198.75 C34.00,200.35 39.80,203.65 45.00,206.25 C50.20,208.85 57.70,212.20 62.50,215.00 C67.30,217.80 71.00,221.15 75.00,223.75 C79.00,226.35 83.50,229.25 87.50,231.25 C91.50,233.25 96.80,234.93 100.00,236.25 C103.20,237.57 104.70,238.82 107.50,239.50 C110.30,240.18 111.50,240.34 117.50,240.50 C123.50,240.66 139.80,240.78 145.00,240.50 C150.20,240.22 147.20,240.23 150.00,238.75 C152.80,237.27 158.50,233.45 162.50,231.25 C166.50,229.05 171.00,227.20 175.00,225.00 C179.00,222.80 184.30,219.22 187.50,217.50 C190.70,215.78 191.00,214.77 195.00,214.25 C199.00,213.73 207.70,214.81 212.50,214.25 C217.30,213.69 221.00,211.75 225.00,210.75 C229.00,209.75 233.50,208.72 237.50,208.00 C241.50,207.28 245.60,206.25 250.00,206.25 C254.40,206.25 260.20,207.00 265.00,208.00 C269.80,209.00 275.20,211.78 280.00,212.50 C284.80,213.22 289.80,212.50 295.00,212.50 C300.20,212.50 307.70,212.10 312.50,212.50 C317.30,212.90 320.60,213.60 325.00,215.00 C329.40,216.40 336.00,220.65 340.00,221.25 C344.00,221.85 346.00,219.55 350.00,218.75 C354.00,217.95 360.20,217.17 365.00,216.25 C369.80,215.33 375.20,214.32 380.00,213.00 C384.80,211.68 389.40,210.48 395.00,208.00 C400.60,205.52 409.40,200.18 415.00,197.50 C420.60,194.82 424.80,193.17 430.00,191.25 C435.20,189.33 443.10,187.94 447.50,185.50 C451.90,183.06 454.70,178.24 457.50,176.00 C460.30,173.76 462.04,173.46 465.00,171.50 C467.96,169.54 472.00,167.19 476.00,163.75 C480.00,160.31 486.00,154.00 490.00,150.00 C494.00,146.00 496.20,144.55 501.00,138.75 C505.80,132.95 513.76,120.55 520.00,113.75 C526.24,106.95 534.24,100.25 540.00,96.25 C545.76,92.25 551.04,90.75 556.00,88.75 C560.96,86.75 566.76,84.23 571.00,83.75 C575.24,83.27 578.66,85.43 582.50,85.75 C586.34,86.07 590.60,86.27 595.00,85.75 C599.40,85.23 606.00,82.62 610.00,82.50 C614.00,82.38 616.40,84.48 620.00,85.00 C623.60,85.52 627.90,85.15 632.50,85.75 C637.10,86.35 644.35,88.63 648.75,88.75 C653.15,88.87 656.28,87.00 660.00,86.50 C663.72,86.00 668.88,85.74 672.00,85.60 C675.12,85.46 677.10,85.30 679.50,85.60 C681.90,85.90 684.20,86.70 687.00,87.50 C689.80,88.30 694.20,89.76 697.00,90.60 C699.80,91.44 701.90,92.09 704.50,92.75 C707.10,93.41 710.45,94.59 713.25,94.75 C716.05,94.91 719.40,93.91 722.00,93.75 C724.60,93.59 727.30,93.55 729.50,93.75 C731.70,93.95 733.75,94.40 735.75,95.00 C737.75,95.60 740.20,96.60 742.00,97.50 C743.80,98.40 745.20,99.56 747.00,100.60 C748.80,101.64 751.25,102.80 753.25,104.00 C755.25,105.20 757.50,106.84 759.50,108.10 C761.50,109.36 763.75,110.80 765.75,111.90 C767.75,113.00 770.00,114.14 772.00,115.00 C774.00,115.86 776.45,116.69 778.25,117.25 C780.05,117.81 781.45,118.46 783.25,118.50 C785.05,118.54 786.82,117.70 789.50,117.50 C792.18,117.30 797.52,117.25 800.00,117.25 C802.48,117.25 801.80,116.46 805.00,117.50 C808.20,118.54 815.20,122.23 820.00,123.75 C824.80,125.27 830.20,125.92 835.00,127.00 C839.80,128.08 845.60,129.62 850.00,130.50 C854.40,131.38 858.90,131.66 862.50,132.50 C866.10,133.34 868.90,134.07 872.50,135.75 C876.10,137.43 881.00,140.12 885.00,143.00 C889.00,145.88 893.82,151.03 897.50,153.75 C901.18,156.47 904.64,158.12 908.00,160.00 C911.36,161.88 916.82,164.62 918.50,165.50" fill="none" stroke="#b2aa08" stroke-width="1.2" stroke-linejoin="round" />
<line x1="185" y1="192.8" x2="621" y2="150.0" stroke="#6ab2b2" stroke-width="1.2"/>
<line x1="621" y1="150.0" x2="971.5" y2="115.9" stroke="#009a00" stroke-width="1.2"/>
<line x1="88.75" y1="260.5" x2="446.25" y2="220.2" stroke="#6ab2b2" stroke-width="1.2"/>
<line x1="446.25" y1="220.2" x2="971.5" y2="161.0" stroke="#009a00" stroke-width="1.2"/>
<line x1="611.25" y1="50.3" x2="920.5" y2="138.0" stroke="#6ab2b2" stroke-width="1.2"/>
<line x1="920.5" y1="138.0" x2="971.5" y2="152.6" stroke="#009a00" stroke-width="1.2"/>
</g>
<rect x="4.6" y="272.0" width="967.6" height="1.9" fill="#9c9c9c"/>
<rect x="971.2" y="39.6" width="1" height="233.7" fill="#c4c4c4"/>
<rect x="971.2" y="289.6" width="1" height="201.0" fill="#c4c4c4"/>
<rect x="971.2" y="495.0" width="1" height="45.5" fill="#c4c4c4"/>
<text transform="scale(0.7907,1)" x="1232.71 1238.78 1244.85 1250.93 1257.00" y="59.40" font-family='"Liberation Sans","IPAGothic",sans-serif' font-size="10.70" text-anchor="middle" fill="#c6c6c6" font-weight="normal">4,700</text>
<text transform="scale(0.7907,1)" x="1232.71 1238.78 1244.85 1250.93 1257.00" y="85.47" font-family='"Liberation Sans","IPAGothic",sans-serif' font-size="10.70" text-anchor="middle" fill="#c6c6c6" font-weight="normal">4,600</text>
<text transform="scale(0.7907,1)" x="1232.71 1238.78 1244.85 1250.93 1257.00" y="111.54" font-family='"Liberation Sans","IPAGothic",sans-serif' font-size="10.70" text-anchor="middle" fill="#c6c6c6" font-weight="normal">4,500</text>
<text transform="scale(0.7907,1)" x="1232.71 1238.78 1244.85 1250.93 1257.00" y="137.61" font-family='"Liberation Sans","IPAGothic",sans-serif' font-size="10.70" text-anchor="middle" fill="#c6c6c6" font-weight="normal">4,400</text>
<text transform="scale(0.7907,1)" x="1232.71 1238.78 1244.85 1250.93 1257.00" y="163.68" font-family='"Liberation Sans","IPAGothic",sans-serif' font-size="10.70" text-anchor="middle" fill="#c6c6c6" font-weight="normal">4,300</text>
<text transform="scale(0.7907,1)" x="1232.71 1238.78 1244.85 1250.93 1257.00" y="189.75" font-family='"Liberation Sans","IPAGothic",sans-serif' font-size="10.70" text-anchor="middle" fill="#c6c6c6" font-weight="normal">4,200</text>
<text transform="scale(0.7907,1)" x="1232.71 1238.78 1244.85 1250.93 1257.00" y="215.82" font-family='"Liberation Sans","IPAGothic",sans-serif' font-size="10.70" text-anchor="middle" fill="#c6c6c6" font-weight="normal">4,100</text>
<text transform="scale(0.7907,1)" x="1232.71 1238.78 1244.85 1250.93 1257.00" y="241.89" font-family='"Liberation Sans","IPAGothic",sans-serif' font-size="10.70" text-anchor="middle" fill="#c6c6c6" font-weight="normal">4,000</text>
<text transform="scale(0.7907,1)" x="1232.71 1238.78 1244.85 1250.93 1257.00" y="267.96" font-family='"Liberation Sans","IPAGothic",sans-serif' font-size="10.70" text-anchor="middle" fill="#c6c6c6" font-weight="normal">3,900</text>
<rect x="972.1" y="192.5" width="46.00000000000002" height="15.6" fill="#d9d9d9"/>
<text transform="scale(0.8236,1)" x="1195.30 1201.37 1207.44 1213.52 1219.59" y="202.90" font-family='"Liberation Sans","IPAGothic",sans-serif' font-size="10.70" text-anchor="middle" fill="#000" font-weight="bold">4,166</text>
<text transform="scale(0.9000,1)" x="171.66 177.00" y="280.60" font-family='"Liberation Sans","IPAGothic",sans-serif' font-size="9.40" text-anchor="middle" fill="#bcbcbc" font-weight="normal">03</text>
<text transform="scale(0.9000,1)" x="407.59 412.92" y="280.60" font-family='"Liberation Sans","IPAGothic",sans-serif' font-size="9.40" text-anchor="middle" fill="#bcbcbc" font-weight="normal">04</text>
<text transform="scale(0.9000,1)" x="622.07 627.40" y="280.60" font-family='"Liberation Sans","IPAGothic",sans-serif' font-size="9.40" text-anchor="middle" fill="#bcbcbc" font-weight="normal">05</text>
<text transform="scale(0.9000,1)" x="836.54 841.88" y="280.60" font-family='"Liberation Sans","IPAGothic",sans-serif' font-size="9.40" text-anchor="middle" fill="#bcbcbc" font-weight="normal">06</text>
<text x="11.00 20.60" y="49.60" font-size="9.6" text-anchor="middle" fill="#ececec" stroke="#ececec" stroke-width="0.1" font-weight="normal">日付</text>
<text transform="scale(0.7907,1)" x="35.16 41.23 47.30 53.37 59.44 65.51 71.58 77.65 83.72 89.79 95.87" y="49.60" font-family='"Liberation Sans","IPAGothic",sans-serif' font-size="10.70" text-anchor="middle" fill="#ececec" stroke="#ececec" stroke-width="0.1" font-weight="normal">:2023/06/26</text>
<text x="87.80 97.40" y="49.60" font-size="9.6" text-anchor="middle" fill="#ececec" stroke="#ececec" stroke-width="0.1" font-weight="normal">始値</text>
<text transform="scale(0.7907,1)" x="132.29 138.36 144.43 150.50 156.57 162.64" y="49.60" font-family='"Liberation Sans","IPAGothic",sans-serif' font-size="10.70" text-anchor="middle" fill="#ececec" stroke="#ececec" stroke-width="0.1" font-weight="normal">:4,175</text>
<text x="140.60 150.20" y="49.60" font-size="9.6" text-anchor="middle" fill="#ececec" stroke="#ececec" stroke-width="0.1" font-weight="normal">高値</text>
<text transform="scale(0.7907,1)" x="199.07 205.14 211.21 217.28 223.35 229.42" y="49.60" font-family='"Liberation Sans","IPAGothic",sans-serif' font-size="10.70" text-anchor="middle" fill="#ececec" stroke="#ececec" stroke-width="0.1" font-weight="normal">:4,196</text>
<text x="193.40 203.00" y="49.60" font-size="9.6" text-anchor="middle" fill="#ececec" stroke="#ececec" stroke-width="0.1" font-weight="normal">安値</text>
<text transform="scale(0.7907,1)" x="265.84 271.91 277.98 284.05 290.12 296.20" y="49.60" font-family='"Liberation Sans","IPAGothic",sans-serif' font-size="10.70" text-anchor="middle" fill="#ececec" stroke="#ececec" stroke-width="0.1" font-weight="normal">:4,163</text>
<text x="246.20 255.80" y="49.60" font-size="9.6" text-anchor="middle" fill="#ececec" stroke="#ececec" stroke-width="0.1" font-weight="normal">終値</text>
<text transform="scale(0.7907,1)" x="332.62 338.69 344.76 350.83 356.90 362.97" y="49.60" font-family='"Liberation Sans","IPAGothic",sans-serif' font-size="10.70" text-anchor="middle" fill="#ececec" stroke="#ececec" stroke-width="0.1" font-weight="normal">:4,166</text>
<rect x="6.4" y="51.7" width="126.6" height="36.8" fill="#fff"/>
<text x="11.50 20.10 28.70 37.30" y="59.50" font-size="8.5" text-anchor="middle" fill="#000" stroke="#000" stroke-width="0.12" font-weight="normal">移動平均</text>
<text transform="scale(0.8421,1)" x="51.95" y="59.50" font-family='"Liberation Sans","IPAGothic",sans-serif' font-size="9.00" text-anchor="middle" fill="#000" stroke="#000" stroke-width="0.12" font-weight="normal">(</text>
<text x="50.20 58.80" y="59.50" font-size="8.5" text-anchor="middle" fill="#000" stroke="#000" stroke-width="0.12" font-weight="normal">白金</text>
<text x="71.70 80.30 88.90 97.50" y="59.50" font-size="8.5" text-anchor="middle" fill="#000" stroke="#000" stroke-width="0.12" font-weight="normal">先限連続</text>
<text transform="scale(0.8421,1)" x="123.44" y="59.50" font-family='"Liberation Sans","IPAGothic",sans-serif' font-size="9.00" text-anchor="middle" fill="#000" stroke="#000" stroke-width="0.12" font-weight="normal">)</text>
<path d="M117.20,59.80 L120.80,53.20 L124.40,59.80 Z" fill="none" stroke="#333" stroke-width="0.8"/>
<path d="M126.20,53.40 L132.80,60.00 M132.80,53.40 L126.20,60.00" fill="none" stroke="#333" stroke-width="0.8"/>
<line x1="7.0" y1="65.55" x2="15.200000000000001" y2="65.55" stroke="#ffff00" stroke-width="1.25"/>
<text x="19.60 28.20 36.80" y="68.85" font-size="8.5" text-anchor="middle" fill="#000" stroke="#000" stroke-width="0.12" font-weight="normal">短期線</text>
<text transform="scale(0.8421,1)" x="51.36 56.46 61.57 66.68 71.78 76.89 81.99" y="68.85" font-family='"Liberation Sans","IPAGothic",sans-serif' font-size="9.00" text-anchor="middle" fill="#000" stroke="#000" stroke-width="0.12" font-weight="normal">(9)(0)(</text>
<text transform="scale(0.7504,1)" x="97.75 103.48 109.21" y="68.85" font-family='"Liberation Mono","IPAGothic",monospace' font-size="9.36" text-anchor="middle" fill="#000" stroke="#000" stroke-width="0.12" font-weight="normal">SMA</text>
<text transform="scale(0.8421,1)" x="102.42 107.53" y="68.85" font-family='"Liberation Sans","IPAGothic",sans-serif' font-size="9.00" text-anchor="middle" fill="#000" stroke="#000" stroke-width="0.12" font-weight="normal">)(</text>
<text transform="scale(0.7504,1)" x="126.41" y="68.85" font-family='"Liberation Mono","IPAGothic",monospace' font-size="9.36" text-anchor="middle" fill="#000" stroke="#000" stroke-width="0.12" font-weight="normal">C</text>
<text transform="scale(0.8421,1)" x="117.74 122.84 127.95 133.06 138.16 143.27 148.37" y="68.85" font-family='"Liberation Sans","IPAGothic",sans-serif' font-size="9.00" text-anchor="middle" fill="#000" stroke="#000" stroke-width="0.12" font-weight="normal">):4,294</text>
<line x1="7.0" y1="74.9" x2="15.200000000000001" y2="74.9" stroke="#40e0ff" stroke-width="1.25"/>
<text x="19.60 28.20 36.80" y="78.20" font-size="8.5" text-anchor="middle" fill="#000" stroke="#000" stroke-width="0.12" font-weight="normal">中期線</text>
<text transform="scale(0.8421,1)" x="51.36 56.46 61.57 66.68 71.78 76.89 81.99 87.10" y="78.20" font-family='"Liberation Sans","IPAGothic",sans-serif' font-size="9.00" text-anchor="middle" fill="#000" stroke="#000" stroke-width="0.12" font-weight="normal">(26)(0)(</text>
<text transform="scale(0.7504,1)" x="103.48 109.21 114.95" y="78.20" font-family='"Liberation Mono","IPAGothic",monospace' font-size="9.36" text-anchor="middle" fill="#000" stroke="#000" stroke-width="0.12" font-weight="normal">SMA</text>
<text transform="scale(0.8421,1)" x="107.53 112.63" y="78.20" font-family='"Liberation Sans","IPAGothic",sans-serif' font-size="9.00" text-anchor="middle" fill="#000" stroke="#000" stroke-width="0.12" font-weight="normal">)(</text>
<text transform="scale(0.7504,1)" x="132.14" y="78.20" font-family='"Liberation Mono","IPAGothic",monospace' font-size="9.36" text-anchor="middle" fill="#000" stroke="#000" stroke-width="0.12" font-weight="normal">C</text>
<text transform="scale(0.8421,1)" x="122.84 127.95 133.06 138.16 143.27 148.37 153.48" y="78.20" font-family='"Liberation Sans","IPAGothic",sans-serif' font-size="9.00" text-anchor="middle" fill="#000" stroke="#000" stroke-width="0.12" font-weight="normal">):4,425</text>
<line x1="7.0" y1="84.25" x2="15.200000000000001" y2="84.25" stroke="#30e030" stroke-width="1.25"/>
<text x="19.60 28.20 36.80" y="87.55" font-size="8.5" text-anchor="middle" fill="#000" stroke="#000" stroke-width="0.12" font-weight="normal">長期線</text>
<text transform="scale(0.8421,1)" x="51.36 56.46 61.57 66.68 71.78 76.89 81.99 87.10" y="87.55" font-family='"Liberation Sans","IPAGothic",sans-serif' font-size="9.00" text-anchor="middle" fill="#000" stroke="#000" stroke-width="0.12" font-weight="normal">(52)(0)(</text>
<text transform="scale(0.7504,1)" x="103.48 109.21 114.95" y="87.55" font-family='"Liberation Mono","IPAGothic",monospace' font-size="9.36" text-anchor="middle" fill="#000" stroke="#000" stroke-width="0.12" font-weight="normal">SMA</text>
<text transform="scale(0.8421,1)" x="107.53 112.63" y="87.55" font-family='"Liberation Sans","IPAGothic",sans-serif' font-size="9.00" text-anchor="middle" fill="#000" stroke="#000" stroke-width="0.12" font-weight="normal">)(</text>
<text transform="scale(0.7504,1)" x="132.14" y="87.55" font-family='"Liberation Mono","IPAGothic",monospace' font-size="9.36" text-anchor="middle" fill="#000" stroke="#000" stroke-width="0.12" font-weight="normal">C</text>
<text transform="scale(0.8421,1)" x="122.84 127.95 133.06 138.16 143.27 148.37 153.48" y="87.55" font-family='"Liberation Sans","IPAGothic",sans-serif' font-size="9.00" text-anchor="middle" fill="#000" stroke="#000" stroke-width="0.12" font-weight="normal">):4,481</text>
<rect x="5.0" y="289.40000000000003" width="966.5" height="0.8" fill="#8c8c8c"/>
<rect x="5.0" y="494.8" width="966.5" height="0.8" fill="#8c8c8c"/>
<g id="macd-panel">
<line x1="6.0" y1="299.75" x2="971.5" y2="299.75" stroke="#383838" stroke-width="0.9"/><line x1="6.0" y1="299.75" x2="971.5" y2="299.75" stroke="#6e6e6e" stroke-width="0.9" stroke-dasharray="1.25 1.25"/>
<line x1="6.0" y1="336.00" x2="971.5" y2="336.00" stroke="#383838" stroke-width="0.9"/><line x1="6.0" y1="336.00" x2="971.5" y2="336.00" stroke="#6e6e6e" stroke-width="0.9" stroke-dasharray="1.25 1.25"/>
<line x1="6.0" y1="372.25" x2="971.5" y2="372.25" stroke="#383838" stroke-width="0.9"/><line x1="6.0" y1="372.25" x2="971.5" y2="372.25" stroke="#6e6e6e" stroke-width="0.9" stroke-dasharray="1.25 1.25"/>
<line x1="6.0" y1="408.50" x2="971.5" y2="408.50" stroke="#383838" stroke-width="0.9"/><line x1="6.0" y1="408.50" x2="971.5" y2="408.50" stroke="#6e6e6e" stroke-width="0.9" stroke-dasharray="1.25 1.25"/>
<line x1="6.0" y1="444.75" x2="971.5" y2="444.75" stroke="#383838" stroke-width="0.9"/><line x1="6.0" y1="444.75" x2="971.5" y2="444.75" stroke="#6e6e6e" stroke-width="0.9" stroke-dasharray="1.25 1.25"/>
<line x1="6.0" y1="481.00" x2="971.5" y2="481.00" stroke="#383838" stroke-width="0.9"/><line x1="6.0" y1="481.00" x2="971.5" y2="481.00" stroke="#6e6e6e" stroke-width="0.9" stroke-dasharray="1.25 1.25"/>
<line x1="151.50" y1="289.6" x2="151.50" y2="490.6" stroke="#383838" stroke-width="0.9"/><line x1="151.50" y1="289.6" x2="151.50" y2="490.6" stroke="#6e6e6e" stroke-width="0.9" stroke-dasharray="1.25 1.25"/>
<line x1="363.85" y1="289.6" x2="363.85" y2="490.6" stroke="#383838" stroke-width="0.9"/><line x1="363.85" y1="289.6" x2="363.85" y2="490.6" stroke="#6e6e6e" stroke-width="0.9" stroke-dasharray="1.25 1.25"/>
<line x1="556.89" y1="289.6" x2="556.89" y2="490.6" stroke="#383838" stroke-width="0.9"/><line x1="556.89" y1="289.6" x2="556.89" y2="490.6" stroke="#6e6e6e" stroke-width="0.9" stroke-dasharray="1.25 1.25"/>
<line x1="749.93" y1="289.6" x2="749.93" y2="490.6" stroke="#383838" stroke-width="0.9"/><line x1="749.93" y1="289.6" x2="749.93" y2="490.6" stroke="#6e6e6e" stroke-width="0.9" stroke-dasharray="1.25 1.25"/>
<rect x="6.95" y="408.50" width="9.2" height="10.75" fill="#00ffff"/>
<rect x="16.60" y="408.50" width="9.2" height="10.75" fill="#00ffff"/>
<rect x="26.25" y="408.50" width="9.2" height="8.25" fill="#00ffff"/>
<rect x="35.91" y="408.50" width="9.2" height="12.25" fill="#00ffff"/>
<rect x="45.56" y="408.50" width="9.2" height="14.00" fill="#00ffff"/>
<rect x="55.21" y="408.50" width="9.2" height="12.25" fill="#00ffff"/>
<rect x="64.86" y="408.50" width="9.2" height="14.00" fill="#00ffff"/>
<rect x="74.51" y="408.50" width="9.2" height="14.00" fill="#00ffff"/>
<rect x="84.17" y="408.50" width="9.2" height="10.75" fill="#00ffff"/>
<rect x="93.82" y="408.50" width="9.2" height="8.25" fill="#00ffff"/>
<rect x="103.47" y="408.50" width="9.2" height="5.25" fill="#00ffff"/>
<rect x="113.12" y="405.00" width="9.2" height="3.50" fill="#00ffff"/>
<rect x="122.77" y="400.75" width="9.2" height="7.75" fill="#00ffff"/>
<rect x="132.43" y="403.00" width="9.2" height="5.50" fill="#00ffff"/>
<rect x="142.08" y="400.00" width="9.2" height="8.50" fill="#00ffff"/>
<rect x="151.73" y="393.75" width="9.2" height="14.75" fill="#00ffff"/>
<rect x="161.38" y="391.25" width="9.2" height="17.25" fill="#00ffff"/>
<rect x="171.03" y="389.25" width="9.2" height="19.25" fill="#00ffff"/>
<rect x="180.69" y="387.50" width="9.2" height="21.00" fill="#00ffff"/>
<rect x="190.34" y="387.50" width="9.2" height="21.00" fill="#00ffff"/>
<rect x="199.99" y="392.00" width="9.2" height="16.50" fill="#00ffff"/>
<rect x="209.64" y="396.75" width="9.2" height="11.75" fill="#00ffff"/>
<rect x="219.29" y="400.00" width="9.2" height="8.50" fill="#00ffff"/>
<rect x="228.95" y="400.75" width="9.2" height="7.75" fill="#00ffff"/>
<rect x="238.60" y="397.75" width="9.2" height="10.75" fill="#00ffff"/>
<rect x="248.25" y="397.00" width="9.2" height="11.50" fill="#00ffff"/>
<rect x="257.90" y="403.75" width="9.2" height="4.75" fill="#00ffff"/>
<rect x="267.55" y="403.25" width="9.2" height="5.25" fill="#00ffff"/>
<rect x="277.21" y="407.50" width="9.2" height="1.00" fill="#00ffff"/>
<rect x="286.86" y="407.50" width="9.2" height="1.00" fill="#00ffff"/>
<rect x="306.16" y="408.50" width="9.2" height="0.80" fill="#00ffff"/>
<rect x="315.81" y="408.50" width="9.2" height="2.75" fill="#00ffff"/>
<rect x="325.47" y="408.50" width="9.2" height="5.25" fill="#00ffff"/>
<rect x="335.12" y="408.50" width="9.2" height="6.50" fill="#00ffff"/>
<rect x="344.77" y="408.50" width="9.2" height="2.25" fill="#00ffff"/>
<rect x="354.42" y="406.25" width="9.2" height="2.25" fill="#00ffff"/>
<rect x="364.07" y="403.25" width="9.2" height="5.25" fill="#00ffff"/>
<rect x="373.73" y="403.25" width="9.2" height="5.25" fill="#00ffff"/>
<rect x="383.38" y="397.00" width="9.2" height="11.50" fill="#00ffff"/>
<rect x="393.03" y="397.50" width="9.2" height="11.00" fill="#00ffff"/>
<rect x="402.68" y="398.25" width="9.2" height="10.25" fill="#00ffff"/>
<rect x="412.33" y="398.25" width="9.2" height="10.25" fill="#00ffff"/>
<rect x="421.99" y="399.25" width="9.2" height="9.25" fill="#00ffff"/>
<rect x="431.64" y="399.25" width="9.2" height="9.25" fill="#00ffff"/>
<rect x="441.29" y="397.50" width="9.2" height="11.00" fill="#00ffff"/>
<rect x="450.94" y="391.25" width="9.2" height="17.25" fill="#00ffff"/>
<rect x="460.59" y="389.50" width="9.2" height="19.00" fill="#00ffff"/>
<rect x="470.25" y="388.00" width="9.2" height="20.50" fill="#00ffff"/>
<rect x="479.90" y="385.00" width="9.2" height="23.50" fill="#00ffff"/>
<rect x="489.55" y="380.75" width="9.2" height="27.75" fill="#00ffff"/>
<rect x="499.20" y="379.50" width="9.2" height="29.00" fill="#00ffff"/>
<rect x="508.85" y="379.50" width="9.2" height="29.00" fill="#00ffff"/>
<rect x="518.51" y="383.25" width="9.2" height="25.25" fill="#00ffff"/>
<rect x="528.16" y="388.00" width="9.2" height="20.50" fill="#00ffff"/>
<rect x="537.81" y="392.00" width="9.2" height="16.50" fill="#00ffff"/>
<rect x="547.46" y="400.00" width="9.2" height="8.50" fill="#00ffff"/>
<rect x="557.11" y="403.00" width="9.2" height="5.50" fill="#00ffff"/>
<rect x="576.42" y="408.50" width="9.2" height="7.00" fill="#00ffff"/>
<rect x="586.07" y="408.50" width="9.2" height="9.00" fill="#00ffff"/>
<rect x="595.72" y="408.50" width="9.2" height="4.50" fill="#00ffff"/>
<rect x="605.37" y="408.50" width="9.2" height="3.50" fill="#00ffff"/>
<rect x="615.03" y="408.50" width="9.2" height="9.00" fill="#00ffff"/>
<rect x="624.68" y="408.50" width="9.2" height="13.25" fill="#00ffff"/>
<rect x="634.33" y="408.50" width="9.2" height="17.25" fill="#00ffff"/>
<rect x="643.98" y="408.50" width="9.2" height="18.25" fill="#00ffff"/>
<rect x="653.63" y="408.50" width="9.2" height="14.75" fill="#00ffff"/>
<rect x="663.29" y="408.50" width="9.2" height="14.75" fill="#00ffff"/>
<rect x="672.94" y="408.50" width="9.2" height="13.25" fill="#00ffff"/>
<rect x="682.59" y="408.50" width="9.2" height="10.75" fill="#00ffff"/>
<rect x="692.24" y="408.50" width="9.2" height="11.50" fill="#00ffff"/>
<rect x="701.89" y="408.50" width="9.2" height="17.75" fill="#00ffff"/>
<rect x="711.55" y="408.50" width="9.2" height="19.00" fill="#00ffff"/>
<rect x="721.20" y="408.50" width="9.2" height="17.10" fill="#00ffff"/>
<rect x="730.85" y="408.50" width="9.2" height="14.60" fill="#00ffff"/>
<rect x="740.50" y="408.50" width="9.2" height="17.25" fill="#00ffff"/>
<rect x="750.15" y="408.50" width="9.2" height="22.00" fill="#00ffff"/>
<rect x="759.81" y="408.50" width="9.2" height="21.00" fill="#00ffff"/>
<rect x="769.46" y="408.50" width="9.2" height="19.50" fill="#00ffff"/>
<rect x="779.11" y="408.50" width="9.2" height="14.00" fill="#00ffff"/>
<rect x="788.76" y="408.50" width="9.2" height="8.50" fill="#00ffff"/>
<rect x="798.41" y="408.50" width="9.2" height="6.00" fill="#00ffff"/>
<rect x="808.07" y="408.50" width="9.2" height="6.00" fill="#00ffff"/>
<rect x="817.72" y="408.50" width="9.2" height="8.50" fill="#00ffff"/>
<rect x="827.37" y="408.50" width="9.2" height="10.25" fill="#00ffff"/>
<rect x="837.02" y="408.50" width="9.2" height="13.25" fill="#00ffff"/>
<rect x="846.67" y="408.50" width="9.2" height="14.00" fill="#00ffff"/>
<rect x="856.33" y="408.50" width="9.2" height="9.00" fill="#00ffff"/>
<rect x="865.98" y="408.50" width="9.2" height="7.00" fill="#00ffff"/>
<rect x="875.63" y="408.50" width="9.2" height="7.00" fill="#00ffff"/>
<rect x="885.28" y="408.50" width="9.2" height="9.00" fill="#00ffff"/>
<rect x="894.93" y="408.50" width="9.2" height="14.00" fill="#00ffff"/>
<rect x="904.59" y="408.50" width="9.2" height="17.00" fill="#00ffff"/>
<rect x="914.24" y="408.50" width="9.2" height="18.10" fill="#00ffff"/>
<path d="M6.00,428.25 C9.04,428.73 17.96,429.57 25.00,431.25 C32.04,432.93 42.00,436.35 50.00,438.75 C58.00,441.15 67.80,444.25 75.00,446.25 C82.20,448.25 89.80,450.17 95.00,451.25 C100.20,452.33 102.70,453.12 107.50,453.00 C112.30,452.88 118.20,451.70 125.00,450.50 C131.80,449.30 142.00,447.78 150.00,445.50 C158.00,443.22 168.60,439.13 175.00,436.25 C181.40,433.37 186.00,429.30 190.00,427.50 C194.00,425.70 196.40,426.20 200.00,425.00 C203.60,423.80 208.50,421.20 212.50,420.00 C216.50,418.80 221.40,418.18 225.00,417.50 C228.60,416.82 232.60,416.23 235.00,415.75 C237.40,415.27 236.80,415.22 240.00,414.50 C243.20,413.78 250.20,412.05 255.00,411.25 C259.80,410.45 264.40,410.02 270.00,409.50 C275.60,408.98 283.60,408.12 290.00,408.00 C296.40,407.88 304.00,408.35 310.00,408.75 C316.00,409.15 321.90,410.02 327.50,410.50 C333.10,410.98 339.80,411.63 345.00,411.75 C350.20,411.87 355.20,411.61 360.00,411.25 C364.80,410.89 370.20,410.50 375.00,409.50 C379.80,408.50 385.20,406.32 390.00,405.00 C394.80,403.68 400.20,402.25 405.00,401.25 C409.80,400.25 415.20,399.55 420.00,398.75 C424.80,397.95 430.60,397.17 435.00,396.25 C439.40,395.33 443.50,394.40 447.50,393.00 C451.50,391.60 455.60,389.58 460.00,387.50 C464.40,385.42 471.00,382.20 475.00,380.00 C479.00,377.80 481.80,375.91 485.00,373.75 C488.20,371.59 491.00,369.30 495.00,366.50 C499.00,363.70 505.20,359.09 510.00,356.25 C514.80,353.41 520.20,350.95 525.00,348.75 C529.80,346.55 535.20,344.02 540.00,342.50 C544.80,340.98 550.60,339.85 555.00,339.25 C559.40,338.65 563.50,338.51 567.50,338.75 C571.50,338.99 576.00,340.07 580.00,340.75 C584.00,341.43 587.70,342.32 592.50,343.00 C597.30,343.68 604.00,343.88 610.00,345.00 C616.00,346.12 623.60,347.80 630.00,350.00 C636.40,352.20 643.60,356.35 650.00,358.75 C656.40,361.15 662.80,362.88 670.00,365.00 C677.20,367.12 687.80,369.60 695.00,372.00 C702.20,374.40 711.00,378.40 715.00,380.00 C719.00,381.60 716.80,380.80 720.00,382.00 C723.20,383.20 730.20,385.50 735.00,387.50 C739.80,389.50 745.20,392.30 750.00,394.50 C754.80,396.70 759.80,399.09 765.00,401.25 C770.20,403.41 776.50,406.28 782.50,408.00 C788.50,409.72 796.50,410.80 802.50,412.00 C808.50,413.20 814.40,414.22 820.00,415.50 C825.60,416.78 832.70,418.76 837.50,420.00 C842.30,421.24 844.80,422.25 850.00,423.25 C855.20,424.25 863.60,425.09 870.00,426.25 C876.40,427.41 884.40,428.90 890.00,430.50 C895.60,432.10 900.44,434.38 905.00,436.25 C909.56,438.12 916.34,441.25 918.50,442.20" fill="none" stroke="#009400" stroke-width="1.1" stroke-linejoin="round" stroke-dasharray="1.7 0.9"/>
<path d="M6.00,438.75 C8.24,439.15 15.76,440.85 20.00,441.25 C24.24,441.65 27.70,439.45 32.50,441.25 C37.30,443.05 45.60,450.50 50.00,452.50 C54.40,454.50 55.20,452.35 60.00,453.75 C64.80,455.15 74.80,459.97 80.00,461.25 C85.20,462.53 88.50,462.15 92.50,461.75 C96.50,461.35 101.40,460.63 105.00,458.75 C108.60,456.87 111.40,452.68 115.00,450.00 C118.60,447.32 124.30,443.00 127.50,442.00 C130.70,441.00 132.20,444.15 135.00,443.75 C137.80,443.35 141.80,441.70 145.00,439.50 C148.20,437.30 151.00,433.12 155.00,430.00 C159.00,426.88 165.20,423.40 170.00,420.00 C174.80,416.60 181.00,411.15 185.00,408.75 C189.00,406.35 191.80,405.40 195.00,405.00 C198.20,404.60 201.80,405.77 205.00,406.25 C208.20,406.73 211.80,407.48 215.00,408.00 C218.20,408.52 221.80,409.58 225.00,409.50 C228.20,409.42 231.80,408.62 235.00,407.50 C238.20,406.38 242.20,403.78 245.00,402.50 C247.80,401.22 249.70,399.42 252.50,399.50 C255.30,399.58 259.30,402.40 262.50,403.00 C265.70,403.60 269.54,402.53 272.50,403.25 C275.46,403.97 277.40,406.82 281.00,407.50 C284.60,408.18 290.36,407.10 295.00,407.50 C299.64,407.90 305.60,409.00 310.00,410.00 C314.40,411.00 317.70,412.43 322.50,413.75 C327.30,415.07 335.60,418.25 340.00,418.25 C344.40,418.25 346.80,415.27 350.00,413.75 C353.20,412.23 356.80,410.23 360.00,408.75 C363.20,407.27 367.00,405.50 370.00,404.50 C373.00,403.50 375.95,403.94 378.75,402.50 C381.55,401.06 384.50,396.98 387.50,395.50 C390.50,394.02 394.30,393.81 397.50,393.25 C400.70,392.69 404.30,392.52 407.50,392.00 C410.70,391.48 414.30,390.60 417.50,390.00 C420.70,389.40 424.54,388.85 427.50,388.25 C430.46,387.65 433.20,387.25 436.00,386.25 C438.80,385.25 441.96,384.20 445.00,382.00 C448.04,379.80 451.80,375.02 455.00,372.50 C458.20,369.98 461.80,368.25 465.00,366.25 C468.20,364.25 471.80,362.40 475.00,360.00 C478.20,357.60 482.60,353.85 485.00,351.25 C487.40,348.65 487.60,346.35 490.00,343.75 C492.40,341.15 496.80,337.52 500.00,335.00 C503.20,332.48 506.80,329.48 510.00,328.00 C513.20,326.52 516.00,326.15 520.00,325.75 C524.00,325.35 531.40,325.30 535.00,325.50 C538.60,325.70 539.94,326.08 542.50,327.00 C545.06,327.92 548.20,330.25 551.00,331.25 C553.80,332.25 556.96,332.05 560.00,333.25 C563.04,334.45 566.80,336.59 570.00,338.75 C573.20,340.91 576.80,344.63 580.00,346.75 C583.20,348.87 586.80,351.60 590.00,352.00 C593.20,352.40 597.00,349.85 600.00,349.25 C603.00,348.65 605.95,347.53 608.75,348.25 C611.55,348.97 614.10,351.15 617.50,353.75 C620.90,356.35 626.40,361.58 630.00,364.50 C633.60,367.42 637.20,370.40 640.00,372.00 C642.80,373.60 644.70,373.90 647.50,374.50 C650.30,375.10 654.30,375.15 657.50,375.75 C660.70,376.35 664.30,377.49 667.50,378.25 C670.70,379.01 674.30,380.14 677.50,380.50 C680.70,380.86 684.30,379.98 687.50,380.50 C690.70,381.02 694.50,381.83 697.50,383.75 C700.50,385.67 703.25,390.22 706.25,392.50 C709.25,394.78 713.05,396.68 716.25,398.00 C719.45,399.32 723.25,400.03 726.25,400.75 C729.25,401.47 732.00,401.02 735.00,402.50 C738.00,403.98 741.80,407.52 745.00,410.00 C748.20,412.48 751.80,416.00 755.00,418.00 C758.20,420.00 762.00,421.46 765.00,422.50 C768.00,423.54 770.75,424.58 773.75,424.50 C776.75,424.42 780.55,423.12 783.75,422.00 C786.95,420.88 790.75,418.22 793.75,417.50 C796.75,416.78 799.50,417.10 802.50,417.50 C805.50,417.90 809.30,419.08 812.50,420.00 C815.70,420.92 819.30,421.85 822.50,423.25 C825.70,424.65 829.30,426.95 832.50,428.75 C835.70,430.55 839.62,433.02 842.50,434.50 C845.38,435.98 847.70,437.92 850.50,438.00 C853.30,438.08 856.88,435.68 860.00,435.00 C863.12,434.32 866.80,433.67 870.00,433.75 C873.20,433.83 876.80,434.42 880.00,435.50 C883.20,436.58 886.80,438.38 890.00,440.50 C893.20,442.62 897.00,446.43 900.00,448.75 C903.00,451.07 905.75,453.20 908.75,455.00 C911.75,456.80 917.15,459.20 918.75,460.00" fill="none" stroke="#a40000" stroke-width="1.1" stroke-linejoin="round" />
</g>
<text transform="scale(0.7907,1)" x="1238.40 1244.48 1250.55 1256.62 1262.69 1268.76 1274.83 1280.90" y="298.15" font-family='"Liberation Sans","IPAGothic",sans-serif' font-size="10.70" text-anchor="middle" fill="#c6c6c6" font-weight="normal">150.0000</text>
<text transform="scale(0.7907,1)" x="1238.40 1244.48 1250.55 1256.62 1262.69 1268.76 1274.83 1280.90" y="334.40" font-family='"Liberation Sans","IPAGothic",sans-serif' font-size="10.70" text-anchor="middle" fill="#c6c6c6" font-weight="normal">100.0000</text>
<text transform="scale(0.7907,1)" x="1244.48 1250.55 1256.62 1262.69 1268.76 1274.83 1280.90" y="370.65" font-family='"Liberation Sans","IPAGothic",sans-serif' font-size="10.70" text-anchor="middle" fill="#c6c6c6" font-weight="normal">50.0000</text>
<text transform="scale(0.7907,1)" x="1250.55 1256.62 1262.69 1268.76 1274.83 1280.90" y="406.90" font-family='"Liberation Sans","IPAGothic",sans-serif' font-size="10.70" text-anchor="middle" fill="#c6c6c6" font-weight="normal">0.0000</text>
<text transform="scale(0.7907,1)" x="1238.40 1244.48 1250.55 1256.62 1262.69 1268.76 1274.83 1280.90" y="443.15" font-family='"Liberation Sans","IPAGothic",sans-serif' font-size="10.70" text-anchor="middle" fill="#c6c6c6" font-weight="normal">-50.0000</text>
<text transform="scale(0.7907,1)" x="1232.33 1238.40 1244.48 1250.55 1256.62 1262.69 1268.76 1274.83 1280.90" y="479.40" font-family='"Liberation Sans","IPAGothic",sans-serif' font-size="10.70" text-anchor="middle" fill="#c6c6c6" font-weight="normal">-100.0000</text>
<rect x="6.4" y="290.8" width="113.9" height="37.4" fill="#fff"/>
<text transform="scale(0.7504,1)" x="12.46 18.19 23.92 29.65" y="298.60" font-family='"Liberation Mono","IPAGothic",monospace' font-size="9.36" text-anchor="middle" fill="#000" stroke="#000" stroke-width="0.12" font-weight="normal">MACD</text>
<text transform="scale(0.8421,1)" x="31.53" y="298.60" font-family='"Liberation Sans","IPAGothic",sans-serif' font-size="9.00" text-anchor="middle" fill="#000" stroke="#000" stroke-width="0.12" font-weight="normal">(</text>
<text x="33.00 41.60" y="298.60" font-size="8.5" text-anchor="middle" fill="#000" stroke="#000" stroke-width="0.12" font-weight="normal">白金</text>
<text x="54.50 63.10 71.70 80.30" y="298.60" font-size="8.5" text-anchor="middle" fill="#000" stroke="#000" stroke-width="0.12" font-weight="normal">先限連続</text>
<text transform="scale(0.8421,1)" x="103.01" y="298.60" font-family='"Liberation Sans","IPAGothic",sans-serif' font-size="9.00" text-anchor="middle" fill="#000" stroke="#000" stroke-width="0.12" font-weight="normal">)</text>
<path d="M104.50,298.90 L108.10,292.30 L111.70,298.90 Z" fill="none" stroke="#333" stroke-width="0.8"/>
<path d="M113.50,292.50 L120.10,299.10 M120.10,292.50 L113.50,299.10" fill="none" stroke="#333" stroke-width="0.8"/>
<line x1="7.0" y1="304.65000000000003" x2="15.200000000000001" y2="304.65000000000003" stroke="#ff2020" stroke-width="1.25"/>
<text transform="scale(0.7504,1)" x="23.26 28.99 34.72 40.45" y="307.95" font-family='"Liberation Mono","IPAGothic",monospace' font-size="9.36" text-anchor="middle" fill="#000" stroke="#000" stroke-width="0.12" font-weight="normal">MACD</text>
<text transform="scale(0.8421,1)" x="41.15 46.25 51.36 56.46 61.57 66.68 71.78 76.89 81.99" y="307.95" font-family='"Liberation Sans","IPAGothic",sans-serif' font-size="9.00" text-anchor="middle" fill="#000" stroke="#000" stroke-width="0.12" font-weight="normal">(10)(20)(</text>
<text transform="scale(0.7504,1)" x="97.75" y="307.95" font-family='"Liberation Mono","IPAGothic",monospace' font-size="9.36" text-anchor="middle" fill="#000" stroke="#000" stroke-width="0.12" font-weight="normal">C</text>
<text transform="scale(0.8421,1)" x="92.21 97.31 102.42 107.53 112.63 117.74 122.84 127.95 133.06 138.16" y="307.95" font-family='"Liberation Sans","IPAGothic",sans-serif' font-size="9.00" text-anchor="middle" fill="#000" stroke="#000" stroke-width="0.12" font-weight="normal">):-71.7564</text>
<line x1="7.0" y1="314.0" x2="15.200000000000001" y2="314.0" stroke="#30e030" stroke-width="1" stroke-dasharray="2 1.2"/>
<text x="19.60 28.20 36.80 45.40" y="317.30" font-size="8.5" text-anchor="middle" fill="#000" stroke="#000" stroke-width="0.12" font-weight="normal">シグナル</text>
<text transform="scale(0.8421,1)" x="61.57 66.68 71.78 76.89 81.99 87.10 92.21 97.31 102.42 107.53 112.63 117.74 122.84" y="317.30" font-family='"Liberation Sans","IPAGothic",sans-serif' font-size="9.00" text-anchor="middle" fill="#000" stroke="#000" stroke-width="0.12" font-weight="normal">(10):-46.4370</text>
<rect x="7.0" y="322.75" width="8.0" height="4.0" fill="#00ffff"/>
<text transform="scale(0.7504,1)" x="23.26 28.99 34.72 40.45" y="326.65" font-family='"Liberation Mono","IPAGothic",monospace' font-size="9.36" text-anchor="middle" fill="#000" stroke="#000" stroke-width="0.12" font-weight="normal">MACD</text>
<text x="36.80 45.40 54.00 62.60 71.20" y="326.65" font-size="8.5" text-anchor="middle" fill="#000" stroke="#000" stroke-width="0.12" font-weight="normal">オシレータ</text>
<text transform="scale(0.8421,1)" x="92.21 97.31 102.42 107.53 112.63 117.74 122.84 127.95 133.06" y="326.65" font-family='"Liberation Sans","IPAGothic",sans-serif' font-size="9.00" text-anchor="middle" fill="#000" stroke="#000" stroke-width="0.12" font-weight="normal">:-25.3193</text>
<g id="volume-panel">
<line x1="6.0" y1="504.50" x2="971.5" y2="504.50" stroke="#383838" stroke-width="0.9"/><line x1="6.0" y1="504.50" x2="971.5" y2="504.50" stroke="#6e6e6e" stroke-width="0.9" stroke-dasharray="1.25 1.25"/>
<line x1="6.0" y1="521.90" x2="971.5" y2="521.90" stroke="#383838" stroke-width="0.9"/><line x1="6.0" y1="521.90" x2="971.5" y2="521.90" stroke="#6e6e6e" stroke-width="0.9" stroke-dasharray="1.25 1.25"/>
<line x1="6.0" y1="539.25" x2="971.5" y2="539.25" stroke="#383838" stroke-width="0.9"/><line x1="6.0" y1="539.25" x2="971.5" y2="539.25" stroke="#6e6e6e" stroke-width="0.9" stroke-dasharray="1.25 1.25"/>
<line x1="151.50" y1="495.0" x2="151.50" y2="540.5" stroke="#383838" stroke-width="0.9"/><line x1="151.50" y1="495.0" x2="151.50" y2="540.5" stroke="#6e6e6e" stroke-width="0.9" stroke-dasharray="1.25 1.25"/>
<line x1="363.85" y1="495.0" x2="363.85" y2="540.5" stroke="#383838" stroke-width="0.9"/><line x1="363.85" y1="495.0" x2="363.85" y2="540.5" stroke="#6e6e6e" stroke-width="0.9" stroke-dasharray="1.25 1.25"/>
<line x1="556.89" y1="495.0" x2="556.89" y2="540.5" stroke="#383838" stroke-width="0.9"/><line x1="556.89" y1="495.0" x2="556.89" y2="540.5" stroke="#6e6e6e" stroke-width="0.9" stroke-dasharray="1.25 1.25"/>
<line x1="749.93" y1="495.0" x2="749.93" y2="540.5" stroke="#383838" stroke-width="0.9"/><line x1="749.93" y1="495.0" x2="749.93" y2="540.5" stroke="#6e6e6e" stroke-width="0.9" stroke-dasharray="1.25 1.25"/>
<rect x="7.00" y="535.00" width="9.1" height="4.25" fill="#00ffff"/>
<rect x="16.65" y="535.00" width="9.1" height="4.25" fill="#00ffff"/>
<rect x="26.30" y="535.75" width="9.1" height="3.50" fill="#00ffff"/>
<rect x="35.96" y="534.25" width="9.1" height="5.00" fill="#00ffff"/>
<rect x="45.61" y="534.25" width="9.1" height="5.00" fill="#00ffff"/>
<rect x="55.26" y="534.25" width="9.1" height="5.00" fill="#00ffff"/>
<rect x="64.91" y="534.25" width="9.1" height="5.00" fill="#00ffff"/>
<rect x="74.56" y="534.25" width="9.1" height="5.00" fill="#00ffff"/>
<rect x="84.22" y="535.00" width="9.1" height="4.25" fill="#00ffff"/>
<rect x="93.87" y="535.75" width="9.1" height="3.50" fill="#00ffff"/>
<rect x="103.52" y="535.00" width="9.1" height="4.25" fill="#00ffff"/>
<rect x="113.17" y="534.25" width="9.1" height="5.00" fill="#00ffff"/>
<rect x="122.82" y="534.25" width="9.1" height="5.00" fill="#00ffff"/>
<rect x="132.48" y="534.25" width="9.1" height="5.00" fill="#00ffff"/>
<rect x="142.13" y="534.25" width="9.1" height="5.00" fill="#00ffff"/>
<rect x="151.78" y="530.85" width="9.1" height="8.40" fill="#00ffff"/>
<rect x="161.43" y="532.75" width="9.1" height="6.50" fill="#00ffff"/>
<rect x="171.08" y="534.25" width="9.1" height="5.00" fill="#00ffff"/>
<rect x="180.74" y="533.35" width="9.1" height="5.90" fill="#00ffff"/>
<rect x="190.39" y="534.25" width="9.1" height="5.00" fill="#00ffff"/>
<rect x="200.04" y="531.75" width="9.1" height="7.50" fill="#00ffff"/>
<rect x="209.69" y="536.05" width="9.1" height="3.20" fill="#00ffff"/>
<rect x="219.34" y="535.25" width="9.1" height="4.00" fill="#00ffff"/>
<rect x="229.00" y="532.75" width="9.1" height="6.50" fill="#00ffff"/>
<rect x="238.65" y="530.25" width="9.1" height="9.00" fill="#00ffff"/>
<rect x="248.30" y="535.25" width="9.1" height="4.00" fill="#00ffff"/>
<rect x="257.95" y="528.75" width="9.1" height="10.50" fill="#00ffff"/>
<rect x="267.60" y="533.50" width="9.1" height="5.75" fill="#00ffff"/>
<rect x="277.26" y="531.00" width="9.1" height="8.25" fill="#00ffff"/>
<rect x="286.91" y="531.00" width="9.1" height="8.25" fill="#00ffff"/>
<rect x="296.56" y="531.75" width="9.1" height="7.50" fill="#00ffff"/>
<rect x="306.21" y="536.25" width="9.1" height="3.00" fill="#00ffff"/>
<rect x="315.86" y="533.00" width="9.1" height="6.25" fill="#00ffff"/>
<rect x="325.52" y="535.50" width="9.1" height="3.75" fill="#00ffff"/>
<rect x="335.17" y="536.25" width="9.1" height="3.00" fill="#00ffff"/>
<rect x="344.82" y="533.00" width="9.1" height="6.25" fill="#00ffff"/>
<rect x="354.47" y="531.75" width="9.1" height="7.50" fill="#00ffff"/>
<rect x="364.12" y="535.50" width="9.1" height="3.75" fill="#00ffff"/>
<rect x="373.78" y="535.50" width="9.1" height="3.75" fill="#00ffff"/>
<rect x="383.43" y="528.95" width="9.1" height="10.30" fill="#00ffff"/>
<rect x="393.08" y="532.50" width="9.1" height="6.75" fill="#00ffff"/>
<rect x="402.73" y="536.75" width="9.1" height="2.50" fill="#00ffff"/>
<rect x="412.38" y="537.50" width="9.1" height="1.75" fill="#00ffff"/>
<rect x="422.04" y="536.00" width="9.1" height="3.25" fill="#00ffff"/>
<rect x="431.69" y="535.00" width="9.1" height="4.25" fill="#00ffff"/>
<rect x="441.34" y="533.50" width="9.1" height="5.75" fill="#00ffff"/>
<rect x="450.99" y="528.75" width="9.1" height="10.50" fill="#00ffff"/>
<rect x="460.64" y="533.50" width="9.1" height="5.75" fill="#00ffff"/>
<rect x="470.30" y="533.50" width="9.1" height="5.75" fill="#00ffff"/>
<rect x="479.95" y="527.25" width="9.1" height="12.00" fill="#00ffff"/>
<rect x="489.60" y="529.25" width="9.1" height="10.00" fill="#00ffff"/>
<rect x="499.25" y="532.50" width="9.1" height="6.75" fill="#00ffff"/>
<rect x="508.90" y="526.25" width="9.1" height="13.00" fill="#00ffff"/>
<rect x="518.56" y="531.00" width="9.1" height="8.25" fill="#00ffff"/>
<rect x="528.21" y="531.00" width="9.1" height="8.25" fill="#00ffff"/>
<rect x="537.86" y="534.25" width="9.1" height="5.00" fill="#00ffff"/>
<rect x="547.51" y="532.50" width="9.1" height="6.75" fill="#00ffff"/>
<rect x="557.16" y="533.50" width="9.1" height="5.75" fill="#00ffff"/>
<rect x="566.82" y="531.75" width="9.1" height="7.50" fill="#00ffff"/>
<rect x="576.47" y="521.00" width="9.1" height="18.25" fill="#00ffff"/>
<rect x="586.12" y="534.25" width="9.1" height="5.00" fill="#00ffff"/>
<rect x="595.77" y="530.00" width="9.1" height="9.25" fill="#00ffff"/>
<rect x="605.42" y="533.50" width="9.1" height="5.75" fill="#00ffff"/>
<rect x="615.08" y="532.50" width="9.1" height="6.75" fill="#00ffff"/>
<rect x="624.73" y="530.00" width="9.1" height="9.25" fill="#00ffff"/>
<rect x="634.38" y="534.25" width="9.1" height="5.00" fill="#00ffff"/>
<rect x="644.03" y="535.50" width="9.1" height="3.75" fill="#00ffff"/>
<rect x="653.68" y="534.25" width="9.1" height="5.00" fill="#00ffff"/>
<rect x="663.34" y="535.50" width="9.1" height="3.75" fill="#00ffff"/>
<rect x="672.99" y="533.50" width="9.1" height="5.75" fill="#00ffff"/>
<rect x="682.64" y="534.25" width="9.1" height="5.00" fill="#00ffff"/>
<rect x="692.29" y="533.50" width="9.1" height="5.75" fill="#00ffff"/>
<rect x="701.94" y="531.00" width="9.1" height="8.25" fill="#00ffff"/>
<rect x="711.60" y="534.25" width="9.1" height="5.00" fill="#00ffff"/>
<rect x="721.25" y="536.00" width="9.1" height="3.25" fill="#00ffff"/>
<rect x="730.90" y="536.75" width="9.1" height="2.50" fill="#00ffff"/>
<rect x="740.55" y="532.25" width="9.1" height="7.00" fill="#00ffff"/>
<rect x="750.20" y="531.00" width="9.1" height="8.25" fill="#00ffff"/>
<rect x="759.86" y="535.50" width="9.1" height="3.75" fill="#00ffff"/>
<rect x="769.51" y="536.25" width="9.1" height="3.00" fill="#00ffff"/>
<rect x="779.16" y="532.50" width="9.1" height="6.75" fill="#00ffff"/>
<rect x="788.81" y="534.25" width="9.1" height="5.00" fill="#00ffff"/>
<rect x="798.46" y="534.25" width="9.1" height="5.00" fill="#00ffff"/>
<rect x="808.12" y="533.50" width="9.1" height="5.75" fill="#00ffff"/>
<rect x="817.77" y="533.50" width="9.1" height="5.75" fill="#00ffff"/>
<rect x="827.42" y="534.25" width="9.1" height="5.00" fill="#00ffff"/>
<rect x="837.07" y="534.25" width="9.1" height="5.00" fill="#00ffff"/>
<rect x="846.72" y="534.25" width="9.1" height="5.00" fill="#00ffff"/>
<rect x="856.38" y="533.50" width="9.1" height="5.75" fill="#00ffff"/>
<rect x="866.03" y="535.50" width="9.1" height="3.75" fill="#00ffff"/>
<rect x="875.68" y="536.75" width="9.1" height="2.50" fill="#00ffff"/>
<rect x="885.33" y="534.25" width="9.1" height="5.00" fill="#00ffff"/>
<rect x="894.98" y="532.50" width="9.1" height="6.75" fill="#00ffff"/>
<rect x="904.64" y="532.50" width="9.1" height="6.75" fill="#00ffff"/>
<rect x="914.29" y="536.75" width="9.1" height="2.50" fill="#00ffff"/>
</g>
<text transform="scale(0.7907,1)" x="1239.16 1245.23 1251.30 1257.38 1263.45" y="502.80" font-family='"Liberation Sans","IPAGothic",sans-serif' font-size="10.70" text-anchor="middle" fill="#c6c6c6" font-weight="normal">50000</text>
<text transform="scale(0.7907,1)" x="1239.16 1245.23 1251.30 1257.38 1263.45" y="520.20" font-family='"Liberation Sans","IPAGothic",sans-serif' font-size="10.70" text-anchor="middle" fill="#c6c6c6" font-weight="normal">25000</text>
<text transform="scale(0.7907,1)" x="1263.45" y="537.55" font-family='"Liberation Sans","IPAGothic",sans-serif' font-size="10.70" text-anchor="middle" fill="#c6c6c6" font-weight="normal">0</text>
<rect x="6.4" y="495.7" width="148.6" height="37.6" fill="#fff"/>
<text x="11.50 20.10 28.70" y="503.50" font-size="8.5" text-anchor="middle" fill="#000" stroke="#000" stroke-width="0.12" font-weight="normal">出来高</text>
<text transform="scale(0.8421,1)" x="41.74" y="503.50" font-family='"Liberation Sans","IPAGothic",sans-serif' font-size="9.00" text-anchor="middle" fill="#000" stroke="#000" stroke-width="0.12" font-weight="normal">(</text>
<text x="41.60 50.20" y="503.50" font-size="8.5" text-anchor="middle" fill="#000" stroke="#000" stroke-width="0.12" font-weight="normal">白金</text>
<text x="63.10 71.70 80.30 88.90" y="503.50" font-size="8.5" text-anchor="middle" fill="#000" stroke="#000" stroke-width="0.12" font-weight="normal">先限連続</text>
<text transform="scale(0.8421,1)" x="113.23" y="503.50" font-family='"Liberation Sans","IPAGothic",sans-serif' font-size="9.00" text-anchor="middle" fill="#000" stroke="#000" stroke-width="0.12" font-weight="normal">)</text>
<path d="M139.20,503.80 L142.80,497.20 L146.40,503.80 Z" fill="none" stroke="#333" stroke-width="0.8"/>
<path d="M148.20,497.40 L154.80,504.00 M154.80,497.40 L148.20,504.00" fill="none" stroke="#333" stroke-width="0.8"/>
<rect x="7.0" y="508.95" width="8.0" height="4.0" fill="#00ffff"/>
<text x="19.60 28.20 36.80" y="512.85" font-size="8.5" text-anchor="middle" fill="#000" stroke="#000" stroke-width="0.12" font-weight="normal">出来高</text>
<text transform="scale(0.8421,1)" x="51.36 56.46 61.57 66.68 71.78" y="512.85" font-family='"Liberation Sans","IPAGothic",sans-serif' font-size="9.00" text-anchor="middle" fill="#000" stroke="#000" stroke-width="0.12" font-weight="normal">:3768</text>
<line x1="7.0" y1="518.9000000000001" x2="15.200000000000001" y2="518.9000000000001" stroke="#30e030" stroke-width="1.25"/>
<text x="19.60 28.20 36.80 45.40 54.00 62.60 71.20" y="522.20" font-size="8.5" text-anchor="middle" fill="#000" stroke="#000" stroke-width="0.12" font-weight="normal">出来高移動平均</text>
<text transform="scale(0.8421,1)" x="92.21 97.31 102.42 107.53" y="522.20" font-family='"Liberation Sans","IPAGothic",sans-serif' font-size="9.00" text-anchor="middle" fill="#000" stroke="#000" stroke-width="0.12" font-weight="normal">(9)(</text>
<text transform="scale(0.7504,1)" x="126.41 132.14 137.87" y="522.20" font-family='"Liberation Mono","IPAGothic",monospace' font-size="9.36" text-anchor="middle" fill="#000" stroke="#000" stroke-width="0.12" font-weight="normal">SMA</text>
<text transform="scale(0.8421,1)" x="127.95 133.06 138.16 143.27 148.37 153.48" y="522.20" font-family='"Liberation Sans","IPAGothic",sans-serif' font-size="9.00" text-anchor="middle" fill="#000" stroke="#000" stroke-width="0.12" font-weight="normal">):7026</text>
<line x1="7.0" y1="528.25" x2="15.200000000000001" y2="528.25" stroke="#ff80ff" stroke-width="1" stroke-dasharray="2 1.2"/>
<text transform="scale(0.7504,1)" x="23.26 28.99 34.72 40.45" y="531.55" font-family='"Liberation Mono","IPAGothic",monospace' font-size="9.36" text-anchor="middle" fill="#000" stroke="#000" stroke-width="0.12" font-weight="normal">Slow</text>
<text x="36.80 45.40 54.00 62.60 71.20 79.80 88.40" y="531.55" font-size="8.5" text-anchor="middle" fill="#000" stroke="#000" stroke-width="0.12" font-weight="normal">出来高移動平均</text>
<text transform="scale(0.8421,1)" x="112.63 117.74 122.84 127.95 133.06" y="531.55" font-family='"Liberation Sans","IPAGothic",sans-serif' font-size="9.00" text-anchor="middle" fill="#000" stroke="#000" stroke-width="0.12" font-weight="normal">(26)(</text>
<text transform="scale(0.7504,1)" x="155.06 160.79 166.52" y="531.55" font-family='"Liberation Mono","IPAGothic",monospace' font-size="9.36" text-anchor="middle" fill="#000" stroke="#000" stroke-width="0.12" font-weight="normal">SMA</text>
<text transform="scale(0.8421,1)" x="153.48 158.59 163.69 168.80 173.91 179.01" y="531.55" font-family='"Liberation Sans","IPAGothic",sans-serif' font-size="9.00" text-anchor="middle" fill="#000" stroke="#000" stroke-width="0.12" font-weight="normal">):7607</text>
</svg>
</body>
</html>
